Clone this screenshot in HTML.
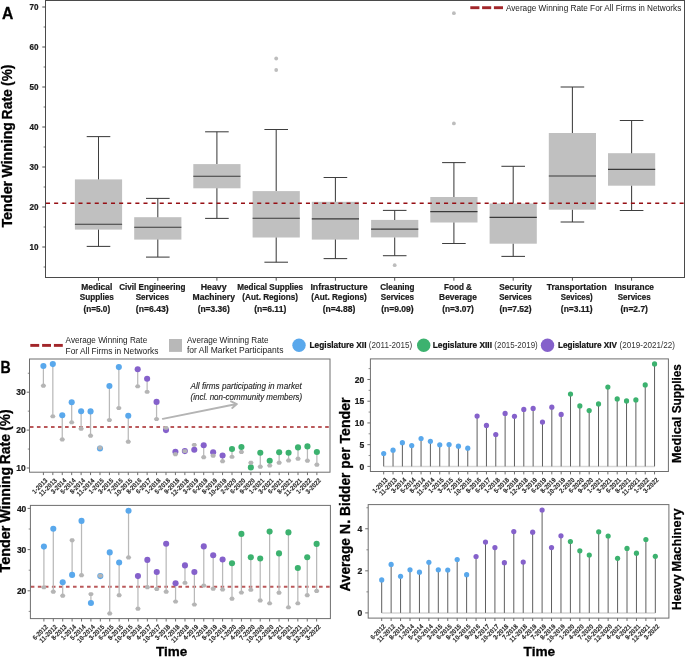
<!DOCTYPE html>
<html lang="en">
<head>
<meta charset="utf-8">
<title>Tender Winning Rate Figure</title>
<style>
html,body{margin:0;padding:0;background:#ffffff;}
body{width:685px;height:657px;overflow:hidden;}
svg{display:block;will-change:transform;}
svg text{font-family:"Liberation Sans", "DejaVu Sans", sans-serif;}
</style>
</head>
<body>
<svg width="685" height="657" viewBox="0 0 685 657">
<rect x="0" y="0" width="685" height="657" fill="#ffffff"/>
<rect x="74.90" y="179.40" width="47.20" height="50.20" fill="#c0c0c0" stroke="none" stroke-width="1"/>
<line x1="98.50" y1="136.60" x2="98.50" y2="179.40" stroke="#3e3e3e" stroke-width="1.05"/>
<line x1="98.50" y1="229.60" x2="98.50" y2="246.40" stroke="#3e3e3e" stroke-width="1.05"/>
<line x1="86.70" y1="136.60" x2="110.30" y2="136.60" stroke="#3e3e3e" stroke-width="1.05"/>
<line x1="86.70" y1="246.40" x2="110.30" y2="246.40" stroke="#3e3e3e" stroke-width="1.05"/>
<line x1="74.90" y1="224.20" x2="122.10" y2="224.20" stroke="#3a3a3a" stroke-width="1.1"/>
<rect x="134.20" y="217.20" width="47.20" height="22.40" fill="#c0c0c0" stroke="none" stroke-width="1"/>
<line x1="157.80" y1="198.40" x2="157.80" y2="217.20" stroke="#3e3e3e" stroke-width="1.05"/>
<line x1="157.80" y1="239.60" x2="157.80" y2="257.10" stroke="#3e3e3e" stroke-width="1.05"/>
<line x1="146.00" y1="198.40" x2="169.60" y2="198.40" stroke="#3e3e3e" stroke-width="1.05"/>
<line x1="146.00" y1="257.10" x2="169.60" y2="257.10" stroke="#3e3e3e" stroke-width="1.05"/>
<line x1="134.20" y1="227.20" x2="181.40" y2="227.20" stroke="#3a3a3a" stroke-width="1.1"/>
<rect x="193.30" y="164.10" width="47.20" height="24.20" fill="#c0c0c0" stroke="none" stroke-width="1"/>
<line x1="216.90" y1="131.80" x2="216.90" y2="164.10" stroke="#3e3e3e" stroke-width="1.05"/>
<line x1="216.90" y1="188.30" x2="216.90" y2="218.40" stroke="#3e3e3e" stroke-width="1.05"/>
<line x1="205.10" y1="131.80" x2="228.70" y2="131.80" stroke="#3e3e3e" stroke-width="1.05"/>
<line x1="205.10" y1="218.40" x2="228.70" y2="218.40" stroke="#3e3e3e" stroke-width="1.05"/>
<line x1="193.30" y1="176.30" x2="240.50" y2="176.30" stroke="#3a3a3a" stroke-width="1.1"/>
<rect x="252.60" y="191.10" width="47.20" height="46.40" fill="#c0c0c0" stroke="none" stroke-width="1"/>
<line x1="276.20" y1="129.50" x2="276.20" y2="191.10" stroke="#3e3e3e" stroke-width="1.05"/>
<line x1="276.20" y1="237.50" x2="276.20" y2="262.20" stroke="#3e3e3e" stroke-width="1.05"/>
<line x1="264.40" y1="129.50" x2="288.00" y2="129.50" stroke="#3e3e3e" stroke-width="1.05"/>
<line x1="264.40" y1="262.20" x2="288.00" y2="262.20" stroke="#3e3e3e" stroke-width="1.05"/>
<line x1="252.60" y1="218.20" x2="299.80" y2="218.20" stroke="#3a3a3a" stroke-width="1.1"/>
<circle cx="276.20" cy="58.50" r="1.90" fill="#bdbdbd"/>
<circle cx="276.20" cy="70.00" r="1.90" fill="#bdbdbd"/>
<rect x="311.80" y="201.80" width="47.20" height="37.80" fill="#c0c0c0" stroke="none" stroke-width="1"/>
<line x1="335.40" y1="177.50" x2="335.40" y2="201.80" stroke="#3e3e3e" stroke-width="1.05"/>
<line x1="335.40" y1="239.60" x2="335.40" y2="258.60" stroke="#3e3e3e" stroke-width="1.05"/>
<line x1="323.60" y1="177.50" x2="347.20" y2="177.50" stroke="#3e3e3e" stroke-width="1.05"/>
<line x1="323.60" y1="258.60" x2="347.20" y2="258.60" stroke="#3e3e3e" stroke-width="1.05"/>
<line x1="311.80" y1="218.90" x2="359.00" y2="218.90" stroke="#3a3a3a" stroke-width="1.1"/>
<rect x="371.10" y="219.90" width="47.20" height="17.50" fill="#c0c0c0" stroke="none" stroke-width="1"/>
<line x1="394.70" y1="210.40" x2="394.70" y2="219.90" stroke="#3e3e3e" stroke-width="1.05"/>
<line x1="394.70" y1="237.40" x2="394.70" y2="255.70" stroke="#3e3e3e" stroke-width="1.05"/>
<line x1="382.90" y1="210.40" x2="406.50" y2="210.40" stroke="#3e3e3e" stroke-width="1.05"/>
<line x1="382.90" y1="255.70" x2="406.50" y2="255.70" stroke="#3e3e3e" stroke-width="1.05"/>
<line x1="371.10" y1="229.10" x2="418.30" y2="229.10" stroke="#3a3a3a" stroke-width="1.1"/>
<circle cx="394.70" cy="265.20" r="1.90" fill="#bdbdbd"/>
<rect x="430.30" y="197.00" width="47.20" height="25.50" fill="#c0c0c0" stroke="none" stroke-width="1"/>
<line x1="453.90" y1="162.60" x2="453.90" y2="197.00" stroke="#3e3e3e" stroke-width="1.05"/>
<line x1="453.90" y1="222.50" x2="453.90" y2="243.50" stroke="#3e3e3e" stroke-width="1.05"/>
<line x1="442.10" y1="162.60" x2="465.70" y2="162.60" stroke="#3e3e3e" stroke-width="1.05"/>
<line x1="442.10" y1="243.50" x2="465.70" y2="243.50" stroke="#3e3e3e" stroke-width="1.05"/>
<line x1="430.30" y1="211.60" x2="477.50" y2="211.60" stroke="#3a3a3a" stroke-width="1.1"/>
<circle cx="453.90" cy="13.20" r="1.90" fill="#bdbdbd"/>
<circle cx="453.90" cy="123.40" r="1.90" fill="#bdbdbd"/>
<rect x="489.60" y="203.50" width="47.20" height="40.20" fill="#c0c0c0" stroke="none" stroke-width="1"/>
<line x1="513.20" y1="166.30" x2="513.20" y2="203.50" stroke="#3e3e3e" stroke-width="1.05"/>
<line x1="513.20" y1="243.70" x2="513.20" y2="256.40" stroke="#3e3e3e" stroke-width="1.05"/>
<line x1="501.40" y1="166.30" x2="525.00" y2="166.30" stroke="#3e3e3e" stroke-width="1.05"/>
<line x1="501.40" y1="256.40" x2="525.00" y2="256.40" stroke="#3e3e3e" stroke-width="1.05"/>
<line x1="489.60" y1="217.40" x2="536.80" y2="217.40" stroke="#3a3a3a" stroke-width="1.1"/>
<rect x="548.80" y="133.00" width="47.20" height="76.70" fill="#c0c0c0" stroke="none" stroke-width="1"/>
<line x1="572.40" y1="87.00" x2="572.40" y2="133.00" stroke="#3e3e3e" stroke-width="1.05"/>
<line x1="572.40" y1="209.70" x2="572.40" y2="222.00" stroke="#3e3e3e" stroke-width="1.05"/>
<line x1="560.60" y1="87.00" x2="584.20" y2="87.00" stroke="#3e3e3e" stroke-width="1.05"/>
<line x1="560.60" y1="222.00" x2="584.20" y2="222.00" stroke="#3e3e3e" stroke-width="1.05"/>
<line x1="548.80" y1="176.00" x2="596.00" y2="176.00" stroke="#3a3a3a" stroke-width="1.1"/>
<rect x="608.00" y="153.20" width="47.20" height="32.50" fill="#c0c0c0" stroke="none" stroke-width="1"/>
<line x1="631.60" y1="120.50" x2="631.60" y2="153.20" stroke="#3e3e3e" stroke-width="1.05"/>
<line x1="631.60" y1="185.70" x2="631.60" y2="210.50" stroke="#3e3e3e" stroke-width="1.05"/>
<line x1="619.80" y1="120.50" x2="643.40" y2="120.50" stroke="#3e3e3e" stroke-width="1.05"/>
<line x1="619.80" y1="210.50" x2="643.40" y2="210.50" stroke="#3e3e3e" stroke-width="1.05"/>
<line x1="608.00" y1="169.40" x2="655.20" y2="169.40" stroke="#3a3a3a" stroke-width="1.1"/>
<line x1="46.00" y1="203.30" x2="684.50" y2="203.30" stroke="#960f14" stroke-width="1.55" stroke-dasharray="4.05 4.073"/>
<rect x="45.50" y="0.50" width="639.00" height="277.00" fill="none" stroke="#4a4a4a" stroke-width="1"/>
<line x1="42.30" y1="247.00" x2="45.50" y2="247.00" stroke="#4a4a4a" stroke-width="1"/>
<text x="38.40" y="250.00" font-size="8.4" font-weight="bold" text-anchor="end" fill="#1a1a1a" stroke="#1a1a1a" stroke-width="0.22" textLength="9.00" lengthAdjust="spacingAndGlyphs">10</text>
<line x1="42.30" y1="207.00" x2="45.50" y2="207.00" stroke="#4a4a4a" stroke-width="1"/>
<text x="38.40" y="210.00" font-size="8.4" font-weight="bold" text-anchor="end" fill="#1a1a1a" stroke="#1a1a1a" stroke-width="0.22" textLength="9.00" lengthAdjust="spacingAndGlyphs">20</text>
<line x1="42.30" y1="167.00" x2="45.50" y2="167.00" stroke="#4a4a4a" stroke-width="1"/>
<text x="38.40" y="170.00" font-size="8.4" font-weight="bold" text-anchor="end" fill="#1a1a1a" stroke="#1a1a1a" stroke-width="0.22" textLength="9.00" lengthAdjust="spacingAndGlyphs">30</text>
<line x1="42.30" y1="127.00" x2="45.50" y2="127.00" stroke="#4a4a4a" stroke-width="1"/>
<text x="38.40" y="130.00" font-size="8.4" font-weight="bold" text-anchor="end" fill="#1a1a1a" stroke="#1a1a1a" stroke-width="0.22" textLength="9.00" lengthAdjust="spacingAndGlyphs">40</text>
<line x1="42.30" y1="87.00" x2="45.50" y2="87.00" stroke="#4a4a4a" stroke-width="1"/>
<text x="38.40" y="90.00" font-size="8.4" font-weight="bold" text-anchor="end" fill="#1a1a1a" stroke="#1a1a1a" stroke-width="0.22" textLength="9.00" lengthAdjust="spacingAndGlyphs">50</text>
<line x1="42.30" y1="47.00" x2="45.50" y2="47.00" stroke="#4a4a4a" stroke-width="1"/>
<text x="38.40" y="50.00" font-size="8.4" font-weight="bold" text-anchor="end" fill="#1a1a1a" stroke="#1a1a1a" stroke-width="0.22" textLength="9.00" lengthAdjust="spacingAndGlyphs">60</text>
<line x1="42.30" y1="7.00" x2="45.50" y2="7.00" stroke="#4a4a4a" stroke-width="1"/>
<text x="38.40" y="10.00" font-size="8.4" font-weight="bold" text-anchor="end" fill="#1a1a1a" stroke="#1a1a1a" stroke-width="0.22" textLength="9.00" lengthAdjust="spacingAndGlyphs">70</text>
<line x1="43.60" y1="267.00" x2="45.50" y2="267.00" stroke="#4a4a4a" stroke-width="0.8"/>
<line x1="43.60" y1="227.00" x2="45.50" y2="227.00" stroke="#4a4a4a" stroke-width="0.8"/>
<line x1="43.60" y1="187.00" x2="45.50" y2="187.00" stroke="#4a4a4a" stroke-width="0.8"/>
<line x1="43.60" y1="147.00" x2="45.50" y2="147.00" stroke="#4a4a4a" stroke-width="0.8"/>
<line x1="43.60" y1="107.00" x2="45.50" y2="107.00" stroke="#4a4a4a" stroke-width="0.8"/>
<line x1="43.60" y1="67.00" x2="45.50" y2="67.00" stroke="#4a4a4a" stroke-width="0.8"/>
<line x1="43.60" y1="27.00" x2="45.50" y2="27.00" stroke="#4a4a4a" stroke-width="0.8"/>
<line x1="98.50" y1="277.50" x2="98.50" y2="280.70" stroke="#4a4a4a" stroke-width="1"/>
<line x1="157.80" y1="277.50" x2="157.80" y2="280.70" stroke="#4a4a4a" stroke-width="1"/>
<line x1="216.90" y1="277.50" x2="216.90" y2="280.70" stroke="#4a4a4a" stroke-width="1"/>
<line x1="276.20" y1="277.50" x2="276.20" y2="280.70" stroke="#4a4a4a" stroke-width="1"/>
<line x1="335.40" y1="277.50" x2="335.40" y2="280.70" stroke="#4a4a4a" stroke-width="1"/>
<line x1="394.70" y1="277.50" x2="394.70" y2="280.70" stroke="#4a4a4a" stroke-width="1"/>
<line x1="453.90" y1="277.50" x2="453.90" y2="280.70" stroke="#4a4a4a" stroke-width="1"/>
<line x1="513.20" y1="277.50" x2="513.20" y2="280.70" stroke="#4a4a4a" stroke-width="1"/>
<line x1="572.40" y1="277.50" x2="572.40" y2="280.70" stroke="#4a4a4a" stroke-width="1"/>
<line x1="631.60" y1="277.50" x2="631.60" y2="280.70" stroke="#4a4a4a" stroke-width="1"/>
<text x="96.80" y="289.50" font-size="8.6" font-weight="bold" text-anchor="middle" fill="#1a1a1a" stroke="#1a1a1a" stroke-width="0.22" textLength="30.90" lengthAdjust="spacingAndGlyphs">Medical</text>
<text x="96.80" y="300.40" font-size="8.6" font-weight="bold" text-anchor="middle" fill="#1a1a1a" stroke="#1a1a1a" stroke-width="0.22" textLength="34.00" lengthAdjust="spacingAndGlyphs">Supplies</text>
<text x="96.80" y="311.60" font-size="8.6" font-weight="bold" text-anchor="middle" fill="#1a1a1a" stroke="#1a1a1a" stroke-width="0.22" textLength="26.80" lengthAdjust="spacingAndGlyphs">(n=5.0)</text>
<text x="152.30" y="289.50" font-size="8.6" font-weight="bold" text-anchor="middle" fill="#1a1a1a" stroke="#1a1a1a" stroke-width="0.22" textLength="66.20" lengthAdjust="spacingAndGlyphs">Civil Engineering</text>
<text x="152.30" y="300.40" font-size="8.6" font-weight="bold" text-anchor="middle" fill="#1a1a1a" stroke="#1a1a1a" stroke-width="0.22" textLength="33.20" lengthAdjust="spacingAndGlyphs">Services</text>
<text x="152.30" y="311.60" font-size="8.6" font-weight="bold" text-anchor="middle" fill="#1a1a1a" stroke="#1a1a1a" stroke-width="0.22" textLength="32.90" lengthAdjust="spacingAndGlyphs">(n=6.43)</text>
<text x="213.70" y="289.50" font-size="8.6" font-weight="bold" text-anchor="middle" fill="#1a1a1a" stroke="#1a1a1a" stroke-width="0.22" textLength="26.00" lengthAdjust="spacingAndGlyphs">Heavy</text>
<text x="213.70" y="300.40" font-size="8.6" font-weight="bold" text-anchor="middle" fill="#1a1a1a" stroke="#1a1a1a" stroke-width="0.22" textLength="42.40" lengthAdjust="spacingAndGlyphs">Machinery</text>
<text x="213.70" y="311.60" font-size="8.6" font-weight="bold" text-anchor="middle" fill="#1a1a1a" stroke="#1a1a1a" stroke-width="0.22" textLength="32.10" lengthAdjust="spacingAndGlyphs">(n=3.36)</text>
<text x="270.20" y="289.50" font-size="8.6" font-weight="bold" text-anchor="middle" fill="#1a1a1a" stroke="#1a1a1a" stroke-width="0.22" textLength="65.90" lengthAdjust="spacingAndGlyphs">Medical Supplies</text>
<text x="270.20" y="300.40" font-size="8.6" font-weight="bold" text-anchor="middle" fill="#1a1a1a" stroke="#1a1a1a" stroke-width="0.22" textLength="55.70" lengthAdjust="spacingAndGlyphs">(Aut. Regions)</text>
<text x="270.20" y="311.60" font-size="8.6" font-weight="bold" text-anchor="middle" fill="#1a1a1a" stroke="#1a1a1a" stroke-width="0.22" textLength="32.10" lengthAdjust="spacingAndGlyphs">(n=6.11)</text>
<text x="339.00" y="289.50" font-size="8.6" font-weight="bold" text-anchor="middle" fill="#1a1a1a" stroke="#1a1a1a" stroke-width="0.22" textLength="57.20" lengthAdjust="spacingAndGlyphs">Infrastructure</text>
<text x="339.00" y="300.40" font-size="8.6" font-weight="bold" text-anchor="middle" fill="#1a1a1a" stroke="#1a1a1a" stroke-width="0.22" textLength="55.60" lengthAdjust="spacingAndGlyphs">(Aut. Regions)</text>
<text x="339.00" y="311.60" font-size="8.6" font-weight="bold" text-anchor="middle" fill="#1a1a1a" stroke="#1a1a1a" stroke-width="0.22" textLength="32.50" lengthAdjust="spacingAndGlyphs">(n=4.88)</text>
<text x="397.40" y="289.50" font-size="8.6" font-weight="bold" text-anchor="middle" fill="#1a1a1a" stroke="#1a1a1a" stroke-width="0.22" textLength="34.30" lengthAdjust="spacingAndGlyphs">Cleaning</text>
<text x="397.40" y="300.40" font-size="8.6" font-weight="bold" text-anchor="middle" fill="#1a1a1a" stroke="#1a1a1a" stroke-width="0.22" textLength="33.30" lengthAdjust="spacingAndGlyphs">Services</text>
<text x="397.40" y="311.60" font-size="8.6" font-weight="bold" text-anchor="middle" fill="#1a1a1a" stroke="#1a1a1a" stroke-width="0.22" textLength="32.50" lengthAdjust="spacingAndGlyphs">(n=9.09)</text>
<text x="458.00" y="289.50" font-size="8.6" font-weight="bold" text-anchor="middle" fill="#1a1a1a" stroke="#1a1a1a" stroke-width="0.22" textLength="27.90" lengthAdjust="spacingAndGlyphs">Food &amp;</text>
<text x="458.00" y="300.40" font-size="8.6" font-weight="bold" text-anchor="middle" fill="#1a1a1a" stroke="#1a1a1a" stroke-width="0.22" textLength="37.80" lengthAdjust="spacingAndGlyphs">Beverage</text>
<text x="458.00" y="311.60" font-size="8.6" font-weight="bold" text-anchor="middle" fill="#1a1a1a" stroke="#1a1a1a" stroke-width="0.22" textLength="31.70" lengthAdjust="spacingAndGlyphs">(n=3.07)</text>
<text x="515.50" y="289.50" font-size="8.6" font-weight="bold" text-anchor="middle" fill="#1a1a1a" stroke="#1a1a1a" stroke-width="0.22" textLength="32.60" lengthAdjust="spacingAndGlyphs">Security</text>
<text x="515.50" y="300.40" font-size="8.6" font-weight="bold" text-anchor="middle" fill="#1a1a1a" stroke="#1a1a1a" stroke-width="0.22" textLength="32.60" lengthAdjust="spacingAndGlyphs">Services</text>
<text x="515.50" y="311.60" font-size="8.6" font-weight="bold" text-anchor="middle" fill="#1a1a1a" stroke="#1a1a1a" stroke-width="0.22" textLength="32.00" lengthAdjust="spacingAndGlyphs">(n=7.52)</text>
<text x="576.70" y="289.50" font-size="8.6" font-weight="bold" text-anchor="middle" fill="#1a1a1a" stroke="#1a1a1a" stroke-width="0.22" textLength="59.90" lengthAdjust="spacingAndGlyphs">Transportation</text>
<text x="576.70" y="300.40" font-size="8.6" font-weight="bold" text-anchor="middle" fill="#1a1a1a" stroke="#1a1a1a" stroke-width="0.22" textLength="32.00" lengthAdjust="spacingAndGlyphs">Sevices)</text>
<text x="576.70" y="311.60" font-size="8.6" font-weight="bold" text-anchor="middle" fill="#1a1a1a" stroke="#1a1a1a" stroke-width="0.22" textLength="31.70" lengthAdjust="spacingAndGlyphs">(n=3.11)</text>
<text x="634.20" y="289.50" font-size="8.6" font-weight="bold" text-anchor="middle" fill="#1a1a1a" stroke="#1a1a1a" stroke-width="0.22" textLength="39.50" lengthAdjust="spacingAndGlyphs">Insurance</text>
<text x="634.20" y="300.40" font-size="8.6" font-weight="bold" text-anchor="middle" fill="#1a1a1a" stroke="#1a1a1a" stroke-width="0.22" textLength="32.90" lengthAdjust="spacingAndGlyphs">Services</text>
<text x="634.20" y="311.60" font-size="8.6" font-weight="bold" text-anchor="middle" fill="#1a1a1a" stroke="#1a1a1a" stroke-width="0.22" textLength="27.50" lengthAdjust="spacingAndGlyphs">(n=2.7)</text>
<line x1="470.30" y1="7.70" x2="479.40" y2="7.70" stroke="#a2262a" stroke-width="2.9"/>
<line x1="482.10" y1="7.70" x2="491.20" y2="7.70" stroke="#a2262a" stroke-width="2.9"/>
<line x1="493.90" y1="7.70" x2="503.00" y2="7.70" stroke="#a2262a" stroke-width="2.9"/>
<text x="505.90" y="10.90" font-size="8.7" font-weight="normal" text-anchor="start" fill="#222" textLength="175.40" lengthAdjust="spacingAndGlyphs">Average Winning Rate For All Firms in Networks</text>
<text x="2.00" y="19.00" font-size="16" font-weight="bold" text-anchor="start" fill="#000" stroke="#000" stroke-width="0.3" textLength="11.30" lengthAdjust="spacingAndGlyphs">A</text>
<text x="0" y="0" transform="translate(11.85,227.60) rotate(-90)" font-size="14" font-weight="bold" text-anchor="start" fill="#000" stroke="#000" stroke-width="0.3" textLength="46.80" lengthAdjust="spacingAndGlyphs">Tender</text>
<text x="0" y="0" transform="translate(11.85,177.50) rotate(-90)" font-size="14" font-weight="bold" text-anchor="start" fill="#000" stroke="#000" stroke-width="0.3" textLength="55.40" lengthAdjust="spacingAndGlyphs">Winning</text>
<text x="0" y="0" transform="translate(11.85,119.40) rotate(-90)" font-size="14" font-weight="bold" text-anchor="start" fill="#000" stroke="#000" stroke-width="0.3" textLength="30.30" lengthAdjust="spacingAndGlyphs">Rate</text>
<text x="0" y="0" transform="translate(11.85,85.90) rotate(-90)" font-size="14" font-weight="bold" text-anchor="start" fill="#000" stroke="#000" stroke-width="0.3" textLength="21.30" lengthAdjust="spacingAndGlyphs">(%)</text>
<line x1="30.30" y1="345.40" x2="39.20" y2="345.40" stroke="#a2262a" stroke-width="2.9"/>
<line x1="42.10" y1="345.40" x2="51.00" y2="345.40" stroke="#a2262a" stroke-width="2.9"/>
<line x1="53.90" y1="345.40" x2="62.80" y2="345.40" stroke="#a2262a" stroke-width="2.9"/>
<text x="65.60" y="343.20" font-size="8.6" font-weight="normal" text-anchor="start" fill="#222" textLength="81.60" lengthAdjust="spacingAndGlyphs">Average Winning Rate</text>
<text x="65.60" y="353.80" font-size="8.6" font-weight="normal" text-anchor="start" fill="#222" textLength="92.80" lengthAdjust="spacingAndGlyphs">For All Firms in Networks</text>
<rect x="169.00" y="339.00" width="13.00" height="12.90" fill="#b8b8b8" stroke="none" stroke-width="1"/>
<text x="187.00" y="342.80" font-size="8.6" font-weight="normal" text-anchor="start" fill="#222" textLength="81.60" lengthAdjust="spacingAndGlyphs">Average Winning Rate</text>
<text x="187.00" y="353.10" font-size="8.6" font-weight="normal" text-anchor="start" fill="#222" textLength="96.40" lengthAdjust="spacingAndGlyphs">for All Market Participants</text>
<circle cx="299.00" cy="345.30" r="6.70" fill="#59a8ec"/>
<text x="309.50" y="348.20" font-size="8.6" font-weight="bold" text-anchor="start" fill="#111" stroke="#111" stroke-width="0.22" textLength="57.00" lengthAdjust="spacingAndGlyphs">Legislature XII</text>
<text x="368.80" y="348.20" font-size="8.3" font-weight="normal" text-anchor="start" fill="#333" textLength="43.50" lengthAdjust="spacingAndGlyphs">(2011-2015)</text>
<circle cx="423.70" cy="345.30" r="6.70" fill="#3cb26f"/>
<text x="432.70" y="348.20" font-size="8.6" font-weight="bold" text-anchor="start" fill="#111" stroke="#111" stroke-width="0.22" textLength="59.30" lengthAdjust="spacingAndGlyphs">Legislature XIII</text>
<text x="494.30" y="348.20" font-size="8.3" font-weight="normal" text-anchor="start" fill="#333" textLength="43.50" lengthAdjust="spacingAndGlyphs">(2015-2019)</text>
<circle cx="547.50" cy="345.30" r="6.70" fill="#8561cb"/>
<text x="558.00" y="348.20" font-size="8.6" font-weight="bold" text-anchor="start" fill="#111" stroke="#111" stroke-width="0.22" textLength="59.00" lengthAdjust="spacingAndGlyphs">Legislature XIV</text>
<text x="619.60" y="348.20" font-size="8.3" font-weight="normal" text-anchor="start" fill="#333" textLength="55.40" lengthAdjust="spacingAndGlyphs">(2019-2021/22)</text>
<line x1="29.90" y1="427.10" x2="330.00" y2="427.10" stroke="#ba585a" stroke-width="2.0" stroke-dasharray="3.6 3.43"/>
<line x1="43.40" y1="366.00" x2="43.40" y2="385.80" stroke="#b9b9b9" stroke-width="1.25"/>
<line x1="52.83" y1="364.10" x2="52.83" y2="416.40" stroke="#b9b9b9" stroke-width="1.25"/>
<line x1="62.26" y1="415.30" x2="62.26" y2="439.50" stroke="#b9b9b9" stroke-width="1.25"/>
<line x1="71.69" y1="402.30" x2="71.69" y2="422.40" stroke="#b9b9b9" stroke-width="1.25"/>
<line x1="81.12" y1="411.20" x2="81.12" y2="428.70" stroke="#b9b9b9" stroke-width="1.25"/>
<line x1="90.55" y1="411.40" x2="90.55" y2="435.80" stroke="#b9b9b9" stroke-width="1.25"/>
<line x1="99.98" y1="448.50" x2="99.98" y2="447.80" stroke="#b9b9b9" stroke-width="1.25"/>
<line x1="109.41" y1="386.00" x2="109.41" y2="420.10" stroke="#b9b9b9" stroke-width="1.25"/>
<line x1="118.84" y1="367.10" x2="118.84" y2="408.10" stroke="#b9b9b9" stroke-width="1.25"/>
<line x1="128.27" y1="415.80" x2="128.27" y2="441.80" stroke="#b9b9b9" stroke-width="1.25"/>
<line x1="137.70" y1="369.20" x2="137.70" y2="386.40" stroke="#b9b9b9" stroke-width="1.25"/>
<line x1="147.13" y1="378.70" x2="147.13" y2="391.90" stroke="#b9b9b9" stroke-width="1.25"/>
<line x1="156.56" y1="401.90" x2="156.56" y2="419.10" stroke="#b9b9b9" stroke-width="1.25"/>
<line x1="165.99" y1="430.10" x2="165.99" y2="427.90" stroke="#b9b9b9" stroke-width="1.25"/>
<line x1="175.42" y1="451.80" x2="175.42" y2="454.20" stroke="#b9b9b9" stroke-width="1.25"/>
<line x1="184.85" y1="451.10" x2="184.85" y2="451.10" stroke="#b9b9b9" stroke-width="1.25"/>
<line x1="194.28" y1="449.80" x2="194.28" y2="444.90" stroke="#b9b9b9" stroke-width="1.25"/>
<line x1="203.71" y1="445.20" x2="203.71" y2="457.30" stroke="#b9b9b9" stroke-width="1.25"/>
<line x1="213.14" y1="452.30" x2="213.14" y2="455.80" stroke="#b9b9b9" stroke-width="1.25"/>
<line x1="222.57" y1="455.50" x2="222.57" y2="461.30" stroke="#b9b9b9" stroke-width="1.25"/>
<line x1="232.00" y1="449.00" x2="232.00" y2="456.90" stroke="#b9b9b9" stroke-width="1.25"/>
<line x1="241.43" y1="447.00" x2="241.43" y2="452.00" stroke="#b9b9b9" stroke-width="1.25"/>
<line x1="250.86" y1="467.40" x2="250.86" y2="462.80" stroke="#b9b9b9" stroke-width="1.25"/>
<line x1="260.29" y1="452.70" x2="260.29" y2="466.80" stroke="#b9b9b9" stroke-width="1.25"/>
<line x1="269.72" y1="460.70" x2="269.72" y2="465.60" stroke="#b9b9b9" stroke-width="1.25"/>
<line x1="279.15" y1="452.30" x2="279.15" y2="462.80" stroke="#b9b9b9" stroke-width="1.25"/>
<line x1="288.58" y1="452.70" x2="288.58" y2="460.50" stroke="#b9b9b9" stroke-width="1.25"/>
<line x1="298.01" y1="447.40" x2="298.01" y2="458.70" stroke="#b9b9b9" stroke-width="1.25"/>
<line x1="307.44" y1="446.40" x2="307.44" y2="460.70" stroke="#b9b9b9" stroke-width="1.25"/>
<line x1="316.87" y1="452.00" x2="316.87" y2="464.80" stroke="#b9b9b9" stroke-width="1.25"/>
<circle cx="43.40" cy="366.00" r="3.05" fill="#59a8ec"/>
<circle cx="52.83" cy="364.10" r="3.05" fill="#59a8ec"/>
<circle cx="62.26" cy="415.30" r="3.05" fill="#59a8ec"/>
<circle cx="71.69" cy="402.30" r="3.05" fill="#59a8ec"/>
<circle cx="81.12" cy="411.20" r="3.05" fill="#59a8ec"/>
<circle cx="90.55" cy="411.40" r="3.05" fill="#59a8ec"/>
<circle cx="99.98" cy="448.50" r="3.05" fill="#59a8ec"/>
<circle cx="109.41" cy="386.00" r="3.05" fill="#59a8ec"/>
<circle cx="118.84" cy="367.10" r="3.05" fill="#59a8ec"/>
<circle cx="128.27" cy="415.80" r="3.05" fill="#59a8ec"/>
<circle cx="137.70" cy="369.20" r="3.05" fill="#8561cb"/>
<circle cx="147.13" cy="378.70" r="3.05" fill="#8561cb"/>
<circle cx="156.56" cy="401.90" r="3.05" fill="#8561cb"/>
<circle cx="165.99" cy="430.10" r="3.05" fill="#8561cb"/>
<circle cx="175.42" cy="451.80" r="3.05" fill="#8561cb"/>
<circle cx="184.85" cy="451.10" r="3.05" fill="#8561cb"/>
<circle cx="194.28" cy="449.80" r="3.05" fill="#8561cb"/>
<circle cx="203.71" cy="445.20" r="3.05" fill="#8561cb"/>
<circle cx="213.14" cy="452.30" r="3.05" fill="#8561cb"/>
<circle cx="222.57" cy="455.50" r="3.05" fill="#8561cb"/>
<circle cx="232.00" cy="449.00" r="3.05" fill="#3cb26f"/>
<circle cx="241.43" cy="447.00" r="3.05" fill="#3cb26f"/>
<circle cx="250.86" cy="467.40" r="3.05" fill="#3cb26f"/>
<circle cx="260.29" cy="452.70" r="3.05" fill="#3cb26f"/>
<circle cx="269.72" cy="460.70" r="3.05" fill="#3cb26f"/>
<circle cx="279.15" cy="452.30" r="3.05" fill="#3cb26f"/>
<circle cx="288.58" cy="452.70" r="3.05" fill="#3cb26f"/>
<circle cx="298.01" cy="447.40" r="3.05" fill="#3cb26f"/>
<circle cx="307.44" cy="446.40" r="3.05" fill="#3cb26f"/>
<circle cx="316.87" cy="452.00" r="3.05" fill="#3cb26f"/>
<polygon points="40.65,385.80 41.95,383.85 44.85,383.85 46.15,385.80 44.85,387.75 41.95,387.75" fill="#b5b5b5"/>
<polygon points="50.08,416.40 51.38,414.45 54.28,414.45 55.58,416.40 54.28,418.35 51.38,418.35" fill="#b5b5b5"/>
<polygon points="59.51,439.50 60.81,437.55 63.71,437.55 65.01,439.50 63.71,441.45 60.81,441.45" fill="#b5b5b5"/>
<polygon points="68.94,422.40 70.24,420.45 73.14,420.45 74.44,422.40 73.14,424.35 70.24,424.35" fill="#b5b5b5"/>
<polygon points="78.37,428.70 79.67,426.75 82.57,426.75 83.87,428.70 82.57,430.65 79.67,430.65" fill="#b5b5b5"/>
<polygon points="87.80,435.80 89.10,433.85 92.00,433.85 93.30,435.80 92.00,437.75 89.10,437.75" fill="#b5b5b5"/>
<polygon points="97.23,447.80 98.53,445.85 101.43,445.85 102.73,447.80 101.43,449.75 98.53,449.75" fill="#b5b5b5"/>
<polygon points="106.66,420.10 107.96,418.15 110.86,418.15 112.16,420.10 110.86,422.05 107.96,422.05" fill="#b5b5b5"/>
<polygon points="116.09,408.10 117.39,406.15 120.29,406.15 121.59,408.10 120.29,410.05 117.39,410.05" fill="#b5b5b5"/>
<polygon points="125.52,441.80 126.82,439.85 129.72,439.85 131.02,441.80 129.72,443.75 126.82,443.75" fill="#b5b5b5"/>
<polygon points="134.95,386.40 136.25,384.45 139.15,384.45 140.45,386.40 139.15,388.35 136.25,388.35" fill="#b5b5b5"/>
<polygon points="144.38,391.90 145.68,389.95 148.58,389.95 149.88,391.90 148.58,393.85 145.68,393.85" fill="#b5b5b5"/>
<polygon points="153.81,419.10 155.11,417.15 158.01,417.15 159.31,419.10 158.01,421.05 155.11,421.05" fill="#b5b5b5"/>
<polygon points="163.24,427.90 164.54,425.95 167.44,425.95 168.74,427.90 167.44,429.85 164.54,429.85" fill="#b5b5b5"/>
<polygon points="172.67,454.20 173.97,452.25 176.87,452.25 178.17,454.20 176.87,456.15 173.97,456.15" fill="#b5b5b5"/>
<polygon points="182.10,451.10 183.40,449.15 186.30,449.15 187.60,451.10 186.30,453.05 183.40,453.05" fill="#b5b5b5"/>
<polygon points="191.53,444.90 192.83,442.95 195.73,442.95 197.03,444.90 195.73,446.85 192.83,446.85" fill="#b5b5b5"/>
<polygon points="200.96,457.30 202.26,455.35 205.16,455.35 206.46,457.30 205.16,459.25 202.26,459.25" fill="#b5b5b5"/>
<polygon points="210.39,455.80 211.69,453.85 214.59,453.85 215.89,455.80 214.59,457.75 211.69,457.75" fill="#b5b5b5"/>
<polygon points="219.82,461.30 221.12,459.35 224.02,459.35 225.32,461.30 224.02,463.25 221.12,463.25" fill="#b5b5b5"/>
<polygon points="229.25,456.90 230.55,454.95 233.45,454.95 234.75,456.90 233.45,458.85 230.55,458.85" fill="#b5b5b5"/>
<polygon points="238.68,452.00 239.98,450.05 242.88,450.05 244.18,452.00 242.88,453.95 239.98,453.95" fill="#b5b5b5"/>
<polygon points="248.11,462.80 249.41,460.85 252.31,460.85 253.61,462.80 252.31,464.75 249.41,464.75" fill="#b5b5b5"/>
<polygon points="257.54,466.80 258.84,464.85 261.74,464.85 263.04,466.80 261.74,468.75 258.84,468.75" fill="#b5b5b5"/>
<polygon points="266.97,465.60 268.27,463.65 271.17,463.65 272.47,465.60 271.17,467.55 268.27,467.55" fill="#b5b5b5"/>
<polygon points="276.40,462.80 277.70,460.85 280.60,460.85 281.90,462.80 280.60,464.75 277.70,464.75" fill="#b5b5b5"/>
<polygon points="285.83,460.50 287.13,458.55 290.03,458.55 291.33,460.50 290.03,462.45 287.13,462.45" fill="#b5b5b5"/>
<polygon points="295.26,458.70 296.56,456.75 299.46,456.75 300.76,458.70 299.46,460.65 296.56,460.65" fill="#b5b5b5"/>
<polygon points="304.69,460.70 305.99,458.75 308.89,458.75 310.19,460.70 308.89,462.65 305.99,462.65" fill="#b5b5b5"/>
<polygon points="314.12,464.80 315.42,462.85 318.32,462.85 319.62,464.80 318.32,466.75 315.42,466.75" fill="#b5b5b5"/>
<rect x="29.50" y="359.00" width="300.50" height="113.20" fill="none" stroke="#6e6e6e" stroke-width="1"/>
<line x1="26.70" y1="468.00" x2="29.50" y2="468.00" stroke="#6e6e6e" stroke-width="1"/>
<text x="25.60" y="471.10" font-size="8.8" font-weight="bold" text-anchor="end" fill="#1a1a1a" stroke="#1a1a1a" stroke-width="0.22" textLength="9.40" lengthAdjust="spacingAndGlyphs">10</text>
<line x1="26.70" y1="430.10" x2="29.50" y2="430.10" stroke="#6e6e6e" stroke-width="1"/>
<text x="25.60" y="433.20" font-size="8.8" font-weight="bold" text-anchor="end" fill="#1a1a1a" stroke="#1a1a1a" stroke-width="0.22" textLength="9.40" lengthAdjust="spacingAndGlyphs">20</text>
<line x1="26.70" y1="392.20" x2="29.50" y2="392.20" stroke="#6e6e6e" stroke-width="1"/>
<text x="25.60" y="395.30" font-size="8.8" font-weight="bold" text-anchor="end" fill="#1a1a1a" stroke="#1a1a1a" stroke-width="0.22" textLength="9.40" lengthAdjust="spacingAndGlyphs">30</text>
<line x1="27.80" y1="449.05" x2="29.50" y2="449.05" stroke="#6e6e6e" stroke-width="0.8"/>
<line x1="27.80" y1="411.15" x2="29.50" y2="411.15" stroke="#6e6e6e" stroke-width="0.8"/>
<line x1="27.80" y1="373.25" x2="29.50" y2="373.25" stroke="#6e6e6e" stroke-width="0.8"/>
<line x1="43.40" y1="472.20" x2="43.40" y2="475.10" stroke="#6e6e6e" stroke-width="1"/>
<text x="0" y="0" transform="translate(47.90,481.00) rotate(-45)" font-size="6.6" font-weight="bold" text-anchor="end" fill="#2a2a2a" stroke="#2a2a2a" stroke-width="0.1" textLength="18.70" lengthAdjust="spacingAndGlyphs">1-2013</text>
<line x1="52.83" y1="472.20" x2="52.83" y2="475.10" stroke="#6e6e6e" stroke-width="1"/>
<text x="0" y="0" transform="translate(57.33,481.00) rotate(-45)" font-size="6.6" font-weight="bold" text-anchor="end" fill="#2a2a2a" stroke="#2a2a2a" stroke-width="0.1" textLength="22.30" lengthAdjust="spacingAndGlyphs">11-2013</text>
<line x1="62.26" y1="472.20" x2="62.26" y2="475.10" stroke="#6e6e6e" stroke-width="1"/>
<text x="0" y="0" transform="translate(66.76,481.00) rotate(-45)" font-size="6.6" font-weight="bold" text-anchor="end" fill="#2a2a2a" stroke="#2a2a2a" stroke-width="0.1" textLength="18.70" lengthAdjust="spacingAndGlyphs">3-2014</text>
<line x1="71.69" y1="472.20" x2="71.69" y2="475.10" stroke="#6e6e6e" stroke-width="1"/>
<text x="0" y="0" transform="translate(76.19,481.00) rotate(-45)" font-size="6.6" font-weight="bold" text-anchor="end" fill="#2a2a2a" stroke="#2a2a2a" stroke-width="0.1" textLength="18.70" lengthAdjust="spacingAndGlyphs">5-2014</text>
<line x1="81.12" y1="472.20" x2="81.12" y2="475.10" stroke="#6e6e6e" stroke-width="1"/>
<text x="0" y="0" transform="translate(85.62,481.00) rotate(-45)" font-size="6.6" font-weight="bold" text-anchor="end" fill="#2a2a2a" stroke="#2a2a2a" stroke-width="0.1" textLength="18.70" lengthAdjust="spacingAndGlyphs">8-2014</text>
<line x1="90.55" y1="472.20" x2="90.55" y2="475.10" stroke="#6e6e6e" stroke-width="1"/>
<text x="0" y="0" transform="translate(95.05,481.00) rotate(-45)" font-size="6.6" font-weight="bold" text-anchor="end" fill="#2a2a2a" stroke="#2a2a2a" stroke-width="0.1" textLength="22.30" lengthAdjust="spacingAndGlyphs">11-2014</text>
<line x1="99.98" y1="472.20" x2="99.98" y2="475.10" stroke="#6e6e6e" stroke-width="1"/>
<text x="0" y="0" transform="translate(104.48,481.00) rotate(-45)" font-size="6.6" font-weight="bold" text-anchor="end" fill="#2a2a2a" stroke="#2a2a2a" stroke-width="0.1" textLength="18.70" lengthAdjust="spacingAndGlyphs">1-2015</text>
<line x1="109.41" y1="472.20" x2="109.41" y2="475.10" stroke="#6e6e6e" stroke-width="1"/>
<text x="0" y="0" transform="translate(113.91,481.00) rotate(-45)" font-size="6.6" font-weight="bold" text-anchor="end" fill="#2a2a2a" stroke="#2a2a2a" stroke-width="0.1" textLength="18.70" lengthAdjust="spacingAndGlyphs">3-2015</text>
<line x1="118.84" y1="472.20" x2="118.84" y2="475.10" stroke="#6e6e6e" stroke-width="1"/>
<text x="0" y="0" transform="translate(123.34,481.00) rotate(-45)" font-size="6.6" font-weight="bold" text-anchor="end" fill="#2a2a2a" stroke="#2a2a2a" stroke-width="0.1" textLength="18.70" lengthAdjust="spacingAndGlyphs">7-2015</text>
<line x1="128.27" y1="472.20" x2="128.27" y2="475.10" stroke="#6e6e6e" stroke-width="1"/>
<text x="0" y="0" transform="translate(132.77,481.00) rotate(-45)" font-size="6.6" font-weight="bold" text-anchor="end" fill="#2a2a2a" stroke="#2a2a2a" stroke-width="0.1" textLength="22.30" lengthAdjust="spacingAndGlyphs">10-2015</text>
<line x1="137.70" y1="472.20" x2="137.70" y2="475.10" stroke="#6e6e6e" stroke-width="1"/>
<text x="0" y="0" transform="translate(142.20,481.00) rotate(-45)" font-size="6.6" font-weight="bold" text-anchor="end" fill="#2a2a2a" stroke="#2a2a2a" stroke-width="0.1" textLength="18.70" lengthAdjust="spacingAndGlyphs">8-2016</text>
<line x1="147.13" y1="472.20" x2="147.13" y2="475.10" stroke="#6e6e6e" stroke-width="1"/>
<text x="0" y="0" transform="translate(151.63,481.00) rotate(-45)" font-size="6.6" font-weight="bold" text-anchor="end" fill="#2a2a2a" stroke="#2a2a2a" stroke-width="0.1" textLength="18.70" lengthAdjust="spacingAndGlyphs">6-2017</text>
<line x1="156.56" y1="472.20" x2="156.56" y2="475.10" stroke="#6e6e6e" stroke-width="1"/>
<text x="0" y="0" transform="translate(161.06,481.00) rotate(-45)" font-size="6.6" font-weight="bold" text-anchor="end" fill="#2a2a2a" stroke="#2a2a2a" stroke-width="0.1" textLength="18.70" lengthAdjust="spacingAndGlyphs">1-2018</text>
<line x1="165.99" y1="472.20" x2="165.99" y2="475.10" stroke="#6e6e6e" stroke-width="1"/>
<text x="0" y="0" transform="translate(170.49,481.00) rotate(-45)" font-size="6.6" font-weight="bold" text-anchor="end" fill="#2a2a2a" stroke="#2a2a2a" stroke-width="0.1" textLength="18.70" lengthAdjust="spacingAndGlyphs">5-2018</text>
<line x1="175.42" y1="472.20" x2="175.42" y2="475.10" stroke="#6e6e6e" stroke-width="1"/>
<text x="0" y="0" transform="translate(179.92,481.00) rotate(-45)" font-size="6.6" font-weight="bold" text-anchor="end" fill="#2a2a2a" stroke="#2a2a2a" stroke-width="0.1" textLength="18.70" lengthAdjust="spacingAndGlyphs">9-2018</text>
<line x1="184.85" y1="472.20" x2="184.85" y2="475.10" stroke="#6e6e6e" stroke-width="1"/>
<text x="0" y="0" transform="translate(189.35,481.00) rotate(-45)" font-size="6.6" font-weight="bold" text-anchor="end" fill="#2a2a2a" stroke="#2a2a2a" stroke-width="0.1" textLength="22.30" lengthAdjust="spacingAndGlyphs">12-2018</text>
<line x1="194.28" y1="472.20" x2="194.28" y2="475.10" stroke="#6e6e6e" stroke-width="1"/>
<text x="0" y="0" transform="translate(198.78,481.00) rotate(-45)" font-size="6.6" font-weight="bold" text-anchor="end" fill="#2a2a2a" stroke="#2a2a2a" stroke-width="0.1" textLength="18.70" lengthAdjust="spacingAndGlyphs">3-2019</text>
<line x1="203.71" y1="472.20" x2="203.71" y2="475.10" stroke="#6e6e6e" stroke-width="1"/>
<text x="0" y="0" transform="translate(208.21,481.00) rotate(-45)" font-size="6.6" font-weight="bold" text-anchor="end" fill="#2a2a2a" stroke="#2a2a2a" stroke-width="0.1" textLength="18.70" lengthAdjust="spacingAndGlyphs">6-2019</text>
<line x1="213.14" y1="472.20" x2="213.14" y2="475.10" stroke="#6e6e6e" stroke-width="1"/>
<text x="0" y="0" transform="translate(217.64,481.00) rotate(-45)" font-size="6.6" font-weight="bold" text-anchor="end" fill="#2a2a2a" stroke="#2a2a2a" stroke-width="0.1" textLength="18.70" lengthAdjust="spacingAndGlyphs">8-2019</text>
<line x1="222.57" y1="472.20" x2="222.57" y2="475.10" stroke="#6e6e6e" stroke-width="1"/>
<text x="0" y="0" transform="translate(227.07,481.00) rotate(-45)" font-size="6.6" font-weight="bold" text-anchor="end" fill="#2a2a2a" stroke="#2a2a2a" stroke-width="0.1" textLength="22.30" lengthAdjust="spacingAndGlyphs">10-2019</text>
<line x1="232.00" y1="472.20" x2="232.00" y2="475.10" stroke="#6e6e6e" stroke-width="1"/>
<text x="0" y="0" transform="translate(236.50,481.00) rotate(-45)" font-size="6.6" font-weight="bold" text-anchor="end" fill="#2a2a2a" stroke="#2a2a2a" stroke-width="0.1" textLength="18.70" lengthAdjust="spacingAndGlyphs">2-2020</text>
<line x1="241.43" y1="472.20" x2="241.43" y2="475.10" stroke="#6e6e6e" stroke-width="1"/>
<text x="0" y="0" transform="translate(245.93,481.00) rotate(-45)" font-size="6.6" font-weight="bold" text-anchor="end" fill="#2a2a2a" stroke="#2a2a2a" stroke-width="0.1" textLength="18.70" lengthAdjust="spacingAndGlyphs">6-2020</text>
<line x1="250.86" y1="472.20" x2="250.86" y2="475.10" stroke="#6e6e6e" stroke-width="1"/>
<text x="0" y="0" transform="translate(255.36,481.00) rotate(-45)" font-size="6.6" font-weight="bold" text-anchor="end" fill="#2a2a2a" stroke="#2a2a2a" stroke-width="0.1" textLength="18.70" lengthAdjust="spacingAndGlyphs">9-2020</text>
<line x1="260.29" y1="472.20" x2="260.29" y2="475.10" stroke="#6e6e6e" stroke-width="1"/>
<text x="0" y="0" transform="translate(264.79,481.00) rotate(-45)" font-size="6.6" font-weight="bold" text-anchor="end" fill="#2a2a2a" stroke="#2a2a2a" stroke-width="0.1" textLength="18.70" lengthAdjust="spacingAndGlyphs">1-2021</text>
<line x1="269.72" y1="472.20" x2="269.72" y2="475.10" stroke="#6e6e6e" stroke-width="1"/>
<text x="0" y="0" transform="translate(274.22,481.00) rotate(-45)" font-size="6.6" font-weight="bold" text-anchor="end" fill="#2a2a2a" stroke="#2a2a2a" stroke-width="0.1" textLength="18.70" lengthAdjust="spacingAndGlyphs">3-2021</text>
<line x1="279.15" y1="472.20" x2="279.15" y2="475.10" stroke="#6e6e6e" stroke-width="1"/>
<text x="0" y="0" transform="translate(283.65,481.00) rotate(-45)" font-size="6.6" font-weight="bold" text-anchor="end" fill="#2a2a2a" stroke="#2a2a2a" stroke-width="0.1" textLength="18.70" lengthAdjust="spacingAndGlyphs">6-2021</text>
<line x1="288.58" y1="472.20" x2="288.58" y2="475.10" stroke="#6e6e6e" stroke-width="1"/>
<text x="0" y="0" transform="translate(293.08,481.00) rotate(-45)" font-size="6.6" font-weight="bold" text-anchor="end" fill="#2a2a2a" stroke="#2a2a2a" stroke-width="0.1" textLength="18.70" lengthAdjust="spacingAndGlyphs">8-2021</text>
<line x1="298.01" y1="472.20" x2="298.01" y2="475.10" stroke="#6e6e6e" stroke-width="1"/>
<text x="0" y="0" transform="translate(302.51,481.00) rotate(-45)" font-size="6.6" font-weight="bold" text-anchor="end" fill="#2a2a2a" stroke="#2a2a2a" stroke-width="0.1" textLength="22.30" lengthAdjust="spacingAndGlyphs">11-2021</text>
<line x1="307.44" y1="472.20" x2="307.44" y2="475.10" stroke="#6e6e6e" stroke-width="1"/>
<text x="0" y="0" transform="translate(311.94,481.00) rotate(-45)" font-size="6.6" font-weight="bold" text-anchor="end" fill="#2a2a2a" stroke="#2a2a2a" stroke-width="0.1" textLength="18.70" lengthAdjust="spacingAndGlyphs">1-2022</text>
<line x1="316.87" y1="472.20" x2="316.87" y2="475.10" stroke="#6e6e6e" stroke-width="1"/>
<text x="0" y="0" transform="translate(321.37,481.00) rotate(-45)" font-size="6.6" font-weight="bold" text-anchor="end" fill="#2a2a2a" stroke="#2a2a2a" stroke-width="0.1" textLength="18.70" lengthAdjust="spacingAndGlyphs">3-2022</text>
<text x="190.60" y="389.00" font-size="9.0" font-weight="normal" text-anchor="start" fill="#222" font-style="italic" textLength="111.20" lengthAdjust="spacingAndGlyphs" stroke="#222" stroke-width="0.12">All firms participating in market</text>
<text x="190.60" y="399.90" font-size="9.0" font-weight="normal" text-anchor="start" fill="#222" font-style="italic" textLength="111.60" lengthAdjust="spacingAndGlyphs" stroke="#222" stroke-width="0.12">(incl. non-community members)</text>
<path d="M162.8 418.9 L236.6 404.0 M231.0 401.3 L236.9 404.0 L232.2 408.0" fill="none" stroke="#b4b4b4" stroke-width="1.9" stroke-linecap="round" stroke-linejoin="round"/>
<text x="0.60" y="373.20" font-size="16.5" font-weight="bold" text-anchor="start" fill="#000" stroke="#000" stroke-width="0.3" textLength="10.20" lengthAdjust="spacingAndGlyphs">B</text>
<text x="0" y="0" transform="translate(10.25,572.50) rotate(-90)" font-size="14" font-weight="bold" text-anchor="start" fill="#000" stroke="#000" stroke-width="0.3" textLength="46.80" lengthAdjust="spacingAndGlyphs">Tender</text>
<text x="0" y="0" transform="translate(10.25,522.40) rotate(-90)" font-size="14" font-weight="bold" text-anchor="start" fill="#000" stroke="#000" stroke-width="0.3" textLength="55.40" lengthAdjust="spacingAndGlyphs">Winning</text>
<text x="0" y="0" transform="translate(10.25,464.30) rotate(-90)" font-size="14" font-weight="bold" text-anchor="start" fill="#000" stroke="#000" stroke-width="0.3" textLength="30.30" lengthAdjust="spacingAndGlyphs">Rate</text>
<text x="0" y="0" transform="translate(10.25,430.80) rotate(-90)" font-size="14" font-weight="bold" text-anchor="start" fill="#000" stroke="#000" stroke-width="0.3" textLength="21.30" lengthAdjust="spacingAndGlyphs">(%)</text>
<line x1="30.80" y1="586.80" x2="330.40" y2="586.80" stroke="#ba585a" stroke-width="2.0" stroke-dasharray="3.6 3.43"/>
<line x1="43.90" y1="546.60" x2="43.90" y2="587.40" stroke="#b9b9b9" stroke-width="1.25"/>
<line x1="53.30" y1="528.80" x2="53.30" y2="591.80" stroke="#b9b9b9" stroke-width="1.25"/>
<line x1="62.71" y1="582.30" x2="62.71" y2="595.70" stroke="#b9b9b9" stroke-width="1.25"/>
<line x1="72.11" y1="574.90" x2="72.11" y2="540.30" stroke="#b9b9b9" stroke-width="1.25"/>
<line x1="81.52" y1="520.90" x2="81.52" y2="575.30" stroke="#b9b9b9" stroke-width="1.25"/>
<line x1="90.92" y1="603.00" x2="90.92" y2="594.10" stroke="#b9b9b9" stroke-width="1.25"/>
<line x1="100.33" y1="576.10" x2="100.33" y2="575.70" stroke="#b9b9b9" stroke-width="1.25"/>
<line x1="109.73" y1="552.40" x2="109.73" y2="613.50" stroke="#b9b9b9" stroke-width="1.25"/>
<line x1="119.14" y1="562.50" x2="119.14" y2="595.30" stroke="#b9b9b9" stroke-width="1.25"/>
<line x1="128.54" y1="510.80" x2="128.54" y2="557.50" stroke="#b9b9b9" stroke-width="1.25"/>
<line x1="137.95" y1="576.10" x2="137.95" y2="608.80" stroke="#b9b9b9" stroke-width="1.25"/>
<line x1="147.35" y1="559.90" x2="147.35" y2="587.20" stroke="#b9b9b9" stroke-width="1.25"/>
<line x1="156.76" y1="572.00" x2="156.76" y2="589.00" stroke="#b9b9b9" stroke-width="1.25"/>
<line x1="166.16" y1="543.70" x2="166.16" y2="591.80" stroke="#b9b9b9" stroke-width="1.25"/>
<line x1="175.57" y1="583.20" x2="175.57" y2="601.60" stroke="#b9b9b9" stroke-width="1.25"/>
<line x1="184.97" y1="565.40" x2="184.97" y2="582.90" stroke="#b9b9b9" stroke-width="1.25"/>
<line x1="194.38" y1="572.00" x2="194.38" y2="604.60" stroke="#b9b9b9" stroke-width="1.25"/>
<line x1="203.78" y1="546.40" x2="203.78" y2="585.60" stroke="#b9b9b9" stroke-width="1.25"/>
<line x1="213.19" y1="555.30" x2="213.19" y2="588.80" stroke="#b9b9b9" stroke-width="1.25"/>
<line x1="222.59" y1="559.50" x2="222.59" y2="589.60" stroke="#b9b9b9" stroke-width="1.25"/>
<line x1="232.00" y1="563.20" x2="232.00" y2="598.70" stroke="#b9b9b9" stroke-width="1.25"/>
<line x1="241.41" y1="533.90" x2="241.41" y2="592.60" stroke="#b9b9b9" stroke-width="1.25"/>
<line x1="250.81" y1="557.30" x2="250.81" y2="589.90" stroke="#b9b9b9" stroke-width="1.25"/>
<line x1="260.21" y1="558.50" x2="260.21" y2="600.50" stroke="#b9b9b9" stroke-width="1.25"/>
<line x1="269.62" y1="531.60" x2="269.62" y2="603.40" stroke="#b9b9b9" stroke-width="1.25"/>
<line x1="279.02" y1="553.40" x2="279.02" y2="592.70" stroke="#b9b9b9" stroke-width="1.25"/>
<line x1="288.43" y1="532.40" x2="288.43" y2="607.40" stroke="#b9b9b9" stroke-width="1.25"/>
<line x1="297.83" y1="568.00" x2="297.83" y2="603.40" stroke="#b9b9b9" stroke-width="1.25"/>
<line x1="307.24" y1="557.30" x2="307.24" y2="595.30" stroke="#b9b9b9" stroke-width="1.25"/>
<line x1="316.64" y1="543.90" x2="316.64" y2="591.00" stroke="#b9b9b9" stroke-width="1.25"/>
<circle cx="43.90" cy="546.60" r="3.05" fill="#59a8ec"/>
<circle cx="53.30" cy="528.80" r="3.05" fill="#59a8ec"/>
<circle cx="62.71" cy="582.30" r="3.05" fill="#59a8ec"/>
<circle cx="72.11" cy="574.90" r="3.05" fill="#59a8ec"/>
<circle cx="81.52" cy="520.90" r="3.05" fill="#59a8ec"/>
<circle cx="90.92" cy="603.00" r="3.05" fill="#59a8ec"/>
<circle cx="100.33" cy="576.10" r="3.05" fill="#59a8ec"/>
<circle cx="109.73" cy="552.40" r="3.05" fill="#59a8ec"/>
<circle cx="119.14" cy="562.50" r="3.05" fill="#59a8ec"/>
<circle cx="128.54" cy="510.80" r="3.05" fill="#59a8ec"/>
<circle cx="137.95" cy="576.10" r="3.05" fill="#8561cb"/>
<circle cx="147.35" cy="559.90" r="3.05" fill="#8561cb"/>
<circle cx="156.76" cy="572.00" r="3.05" fill="#8561cb"/>
<circle cx="166.16" cy="543.70" r="3.05" fill="#8561cb"/>
<circle cx="175.57" cy="583.20" r="3.05" fill="#8561cb"/>
<circle cx="184.97" cy="565.40" r="3.05" fill="#8561cb"/>
<circle cx="194.38" cy="572.00" r="3.05" fill="#8561cb"/>
<circle cx="203.78" cy="546.40" r="3.05" fill="#8561cb"/>
<circle cx="213.19" cy="555.30" r="3.05" fill="#8561cb"/>
<circle cx="222.59" cy="559.50" r="3.05" fill="#8561cb"/>
<circle cx="232.00" cy="563.20" r="3.05" fill="#3cb26f"/>
<circle cx="241.41" cy="533.90" r="3.05" fill="#3cb26f"/>
<circle cx="250.81" cy="557.30" r="3.05" fill="#3cb26f"/>
<circle cx="260.21" cy="558.50" r="3.05" fill="#3cb26f"/>
<circle cx="269.62" cy="531.60" r="3.05" fill="#3cb26f"/>
<circle cx="279.02" cy="553.40" r="3.05" fill="#3cb26f"/>
<circle cx="288.43" cy="532.40" r="3.05" fill="#3cb26f"/>
<circle cx="297.83" cy="568.00" r="3.05" fill="#3cb26f"/>
<circle cx="307.24" cy="557.30" r="3.05" fill="#3cb26f"/>
<circle cx="316.64" cy="543.90" r="3.05" fill="#3cb26f"/>
<polygon points="41.15,587.40 42.45,585.45 45.35,585.45 46.65,587.40 45.35,589.35 42.45,589.35" fill="#b5b5b5"/>
<polygon points="50.55,591.80 51.85,589.85 54.76,589.85 56.05,591.80 54.76,593.75 51.85,593.75" fill="#b5b5b5"/>
<polygon points="59.96,595.70 61.26,593.75 64.16,593.75 65.46,595.70 64.16,597.65 61.26,597.65" fill="#b5b5b5"/>
<polygon points="69.36,540.30 70.66,538.35 73.56,538.35 74.86,540.30 73.56,542.25 70.66,542.25" fill="#b5b5b5"/>
<polygon points="78.77,575.30 80.07,573.35 82.97,573.35 84.27,575.30 82.97,577.25 80.07,577.25" fill="#b5b5b5"/>
<polygon points="88.17,594.10 89.47,592.15 92.38,592.15 93.67,594.10 92.38,596.05 89.47,596.05" fill="#b5b5b5"/>
<polygon points="97.58,575.70 98.88,573.75 101.78,573.75 103.08,575.70 101.78,577.65 98.88,577.65" fill="#b5b5b5"/>
<polygon points="106.98,613.50 108.28,611.55 111.18,611.55 112.48,613.50 111.18,615.45 108.28,615.45" fill="#b5b5b5"/>
<polygon points="116.39,595.30 117.69,593.35 120.59,593.35 121.89,595.30 120.59,597.25 117.69,597.25" fill="#b5b5b5"/>
<polygon points="125.79,557.50 127.09,555.55 129.99,555.55 131.29,557.50 129.99,559.45 127.09,559.45" fill="#b5b5b5"/>
<polygon points="135.20,608.80 136.50,606.85 139.40,606.85 140.70,608.80 139.40,610.75 136.50,610.75" fill="#b5b5b5"/>
<polygon points="144.60,587.20 145.91,585.25 148.80,585.25 150.10,587.20 148.80,589.15 145.91,589.15" fill="#b5b5b5"/>
<polygon points="154.01,589.00 155.31,587.05 158.21,587.05 159.51,589.00 158.21,590.95 155.31,590.95" fill="#b5b5b5"/>
<polygon points="163.41,591.80 164.72,589.85 167.61,589.85 168.91,591.80 167.61,593.75 164.72,593.75" fill="#b5b5b5"/>
<polygon points="172.82,601.60 174.12,599.65 177.02,599.65 178.32,601.60 177.02,603.55 174.12,603.55" fill="#b5b5b5"/>
<polygon points="182.22,582.90 183.53,580.95 186.42,580.95 187.72,582.90 186.42,584.85 183.53,584.85" fill="#b5b5b5"/>
<polygon points="191.63,604.60 192.93,602.65 195.83,602.65 197.13,604.60 195.83,606.55 192.93,606.55" fill="#b5b5b5"/>
<polygon points="201.03,585.60 202.34,583.65 205.23,583.65 206.53,585.60 205.23,587.55 202.34,587.55" fill="#b5b5b5"/>
<polygon points="210.44,588.80 211.74,586.85 214.64,586.85 215.94,588.80 214.64,590.75 211.74,590.75" fill="#b5b5b5"/>
<polygon points="219.84,589.60 221.15,587.65 224.04,587.65 225.34,589.60 224.04,591.55 221.15,591.55" fill="#b5b5b5"/>
<polygon points="229.25,598.70 230.55,596.75 233.45,596.75 234.75,598.70 233.45,600.65 230.55,600.65" fill="#b5b5b5"/>
<polygon points="238.66,592.60 239.96,590.65 242.85,590.65 244.16,592.60 242.85,594.55 239.96,594.55" fill="#b5b5b5"/>
<polygon points="248.06,589.90 249.36,587.95 252.26,587.95 253.56,589.90 252.26,591.85 249.36,591.85" fill="#b5b5b5"/>
<polygon points="257.46,600.50 258.76,598.55 261.66,598.55 262.96,600.50 261.66,602.45 258.76,602.45" fill="#b5b5b5"/>
<polygon points="266.87,603.40 268.17,601.45 271.07,601.45 272.37,603.40 271.07,605.35 268.17,605.35" fill="#b5b5b5"/>
<polygon points="276.27,592.70 277.57,590.75 280.47,590.75 281.77,592.70 280.47,594.65 277.57,594.65" fill="#b5b5b5"/>
<polygon points="285.68,607.40 286.98,605.45 289.88,605.45 291.18,607.40 289.88,609.35 286.98,609.35" fill="#b5b5b5"/>
<polygon points="295.08,603.40 296.38,601.45 299.28,601.45 300.58,603.40 299.28,605.35 296.38,605.35" fill="#b5b5b5"/>
<polygon points="304.49,595.30 305.79,593.35 308.69,593.35 309.99,595.30 308.69,597.25 305.79,597.25" fill="#b5b5b5"/>
<polygon points="313.89,591.00 315.19,589.05 318.09,589.05 319.39,591.00 318.09,592.95 315.19,592.95" fill="#b5b5b5"/>
<rect x="30.40" y="505.40" width="300.00" height="113.20" fill="none" stroke="#6e6e6e" stroke-width="1"/>
<line x1="27.60" y1="590.80" x2="30.40" y2="590.80" stroke="#6e6e6e" stroke-width="1"/>
<text x="26.30" y="593.90" font-size="8.8" font-weight="bold" text-anchor="end" fill="#1a1a1a" stroke="#1a1a1a" stroke-width="0.22" textLength="9.40" lengthAdjust="spacingAndGlyphs">20</text>
<line x1="27.60" y1="549.60" x2="30.40" y2="549.60" stroke="#6e6e6e" stroke-width="1"/>
<text x="26.30" y="552.70" font-size="8.8" font-weight="bold" text-anchor="end" fill="#1a1a1a" stroke="#1a1a1a" stroke-width="0.22" textLength="9.40" lengthAdjust="spacingAndGlyphs">30</text>
<line x1="27.60" y1="508.40" x2="30.40" y2="508.40" stroke="#6e6e6e" stroke-width="1"/>
<text x="26.30" y="511.50" font-size="8.8" font-weight="bold" text-anchor="end" fill="#1a1a1a" stroke="#1a1a1a" stroke-width="0.22" textLength="9.40" lengthAdjust="spacingAndGlyphs">40</text>
<line x1="28.70" y1="611.40" x2="30.40" y2="611.40" stroke="#6e6e6e" stroke-width="0.8"/>
<line x1="28.70" y1="570.20" x2="30.40" y2="570.20" stroke="#6e6e6e" stroke-width="0.8"/>
<line x1="28.70" y1="529.00" x2="30.40" y2="529.00" stroke="#6e6e6e" stroke-width="0.8"/>
<line x1="43.90" y1="618.60" x2="43.90" y2="621.50" stroke="#6e6e6e" stroke-width="1"/>
<text x="0" y="0" transform="translate(48.40,627.40) rotate(-45)" font-size="6.6" font-weight="bold" text-anchor="end" fill="#2a2a2a" stroke="#2a2a2a" stroke-width="0.1" textLength="18.70" lengthAdjust="spacingAndGlyphs">6-2012</text>
<line x1="53.30" y1="618.60" x2="53.30" y2="621.50" stroke="#6e6e6e" stroke-width="1"/>
<text x="0" y="0" transform="translate(57.80,627.40) rotate(-45)" font-size="6.6" font-weight="bold" text-anchor="end" fill="#2a2a2a" stroke="#2a2a2a" stroke-width="0.1" textLength="22.30" lengthAdjust="spacingAndGlyphs">11-2012</text>
<line x1="62.71" y1="618.60" x2="62.71" y2="621.50" stroke="#6e6e6e" stroke-width="1"/>
<text x="0" y="0" transform="translate(67.21,627.40) rotate(-45)" font-size="6.6" font-weight="bold" text-anchor="end" fill="#2a2a2a" stroke="#2a2a2a" stroke-width="0.1" textLength="18.70" lengthAdjust="spacingAndGlyphs">8-2013</text>
<line x1="72.11" y1="618.60" x2="72.11" y2="621.50" stroke="#6e6e6e" stroke-width="1"/>
<text x="0" y="0" transform="translate(76.61,627.40) rotate(-45)" font-size="6.6" font-weight="bold" text-anchor="end" fill="#2a2a2a" stroke="#2a2a2a" stroke-width="0.1" textLength="18.70" lengthAdjust="spacingAndGlyphs">1-2014</text>
<line x1="81.52" y1="618.60" x2="81.52" y2="621.50" stroke="#6e6e6e" stroke-width="1"/>
<text x="0" y="0" transform="translate(86.02,627.40) rotate(-45)" font-size="6.6" font-weight="bold" text-anchor="end" fill="#2a2a2a" stroke="#2a2a2a" stroke-width="0.1" textLength="18.70" lengthAdjust="spacingAndGlyphs">5-2014</text>
<line x1="90.92" y1="618.60" x2="90.92" y2="621.50" stroke="#6e6e6e" stroke-width="1"/>
<text x="0" y="0" transform="translate(95.42,627.40) rotate(-45)" font-size="6.6" font-weight="bold" text-anchor="end" fill="#2a2a2a" stroke="#2a2a2a" stroke-width="0.1" textLength="22.30" lengthAdjust="spacingAndGlyphs">10-2014</text>
<line x1="100.33" y1="618.60" x2="100.33" y2="621.50" stroke="#6e6e6e" stroke-width="1"/>
<text x="0" y="0" transform="translate(104.83,627.40) rotate(-45)" font-size="6.6" font-weight="bold" text-anchor="end" fill="#2a2a2a" stroke="#2a2a2a" stroke-width="0.1" textLength="18.70" lengthAdjust="spacingAndGlyphs">3-2015</text>
<line x1="109.73" y1="618.60" x2="109.73" y2="621.50" stroke="#6e6e6e" stroke-width="1"/>
<text x="0" y="0" transform="translate(114.23,627.40) rotate(-45)" font-size="6.6" font-weight="bold" text-anchor="end" fill="#2a2a2a" stroke="#2a2a2a" stroke-width="0.1" textLength="18.70" lengthAdjust="spacingAndGlyphs">6-2015</text>
<line x1="119.14" y1="618.60" x2="119.14" y2="621.50" stroke="#6e6e6e" stroke-width="1"/>
<text x="0" y="0" transform="translate(123.64,627.40) rotate(-45)" font-size="6.6" font-weight="bold" text-anchor="end" fill="#2a2a2a" stroke="#2a2a2a" stroke-width="0.1" textLength="18.70" lengthAdjust="spacingAndGlyphs">8-2015</text>
<line x1="128.54" y1="618.60" x2="128.54" y2="621.50" stroke="#6e6e6e" stroke-width="1"/>
<text x="0" y="0" transform="translate(133.04,627.40) rotate(-45)" font-size="6.6" font-weight="bold" text-anchor="end" fill="#2a2a2a" stroke="#2a2a2a" stroke-width="0.1" textLength="22.30" lengthAdjust="spacingAndGlyphs">10-2015</text>
<line x1="137.95" y1="618.60" x2="137.95" y2="621.50" stroke="#6e6e6e" stroke-width="1"/>
<text x="0" y="0" transform="translate(142.45,627.40) rotate(-45)" font-size="6.6" font-weight="bold" text-anchor="end" fill="#2a2a2a" stroke="#2a2a2a" stroke-width="0.1" textLength="18.70" lengthAdjust="spacingAndGlyphs">9-2016</text>
<line x1="147.35" y1="618.60" x2="147.35" y2="621.50" stroke="#6e6e6e" stroke-width="1"/>
<text x="0" y="0" transform="translate(151.85,627.40) rotate(-45)" font-size="6.6" font-weight="bold" text-anchor="end" fill="#2a2a2a" stroke="#2a2a2a" stroke-width="0.1" textLength="18.70" lengthAdjust="spacingAndGlyphs">4-2017</text>
<line x1="156.76" y1="618.60" x2="156.76" y2="621.50" stroke="#6e6e6e" stroke-width="1"/>
<text x="0" y="0" transform="translate(161.26,627.40) rotate(-45)" font-size="6.6" font-weight="bold" text-anchor="end" fill="#2a2a2a" stroke="#2a2a2a" stroke-width="0.1" textLength="22.30" lengthAdjust="spacingAndGlyphs">10-2017</text>
<line x1="166.16" y1="618.60" x2="166.16" y2="621.50" stroke="#6e6e6e" stroke-width="1"/>
<text x="0" y="0" transform="translate(170.66,627.40) rotate(-45)" font-size="6.6" font-weight="bold" text-anchor="end" fill="#2a2a2a" stroke="#2a2a2a" stroke-width="0.1" textLength="18.70" lengthAdjust="spacingAndGlyphs">3-2018</text>
<line x1="175.57" y1="618.60" x2="175.57" y2="621.50" stroke="#6e6e6e" stroke-width="1"/>
<text x="0" y="0" transform="translate(180.07,627.40) rotate(-45)" font-size="6.6" font-weight="bold" text-anchor="end" fill="#2a2a2a" stroke="#2a2a2a" stroke-width="0.1" textLength="18.70" lengthAdjust="spacingAndGlyphs">7-2018</text>
<line x1="184.97" y1="618.60" x2="184.97" y2="621.50" stroke="#6e6e6e" stroke-width="1"/>
<text x="0" y="0" transform="translate(189.47,627.40) rotate(-45)" font-size="6.6" font-weight="bold" text-anchor="end" fill="#2a2a2a" stroke="#2a2a2a" stroke-width="0.1" textLength="22.30" lengthAdjust="spacingAndGlyphs">11-2018</text>
<line x1="194.38" y1="618.60" x2="194.38" y2="621.50" stroke="#6e6e6e" stroke-width="1"/>
<text x="0" y="0" transform="translate(198.88,627.40) rotate(-45)" font-size="6.6" font-weight="bold" text-anchor="end" fill="#2a2a2a" stroke="#2a2a2a" stroke-width="0.1" textLength="18.70" lengthAdjust="spacingAndGlyphs">4-2019</text>
<line x1="203.78" y1="618.60" x2="203.78" y2="621.50" stroke="#6e6e6e" stroke-width="1"/>
<text x="0" y="0" transform="translate(208.28,627.40) rotate(-45)" font-size="6.6" font-weight="bold" text-anchor="end" fill="#2a2a2a" stroke="#2a2a2a" stroke-width="0.1" textLength="18.70" lengthAdjust="spacingAndGlyphs">7-2019</text>
<line x1="213.19" y1="618.60" x2="213.19" y2="621.50" stroke="#6e6e6e" stroke-width="1"/>
<text x="0" y="0" transform="translate(217.69,627.40) rotate(-45)" font-size="6.6" font-weight="bold" text-anchor="end" fill="#2a2a2a" stroke="#2a2a2a" stroke-width="0.1" textLength="18.70" lengthAdjust="spacingAndGlyphs">8-2019</text>
<line x1="222.59" y1="618.60" x2="222.59" y2="621.50" stroke="#6e6e6e" stroke-width="1"/>
<text x="0" y="0" transform="translate(227.09,627.40) rotate(-45)" font-size="6.6" font-weight="bold" text-anchor="end" fill="#2a2a2a" stroke="#2a2a2a" stroke-width="0.1" textLength="22.30" lengthAdjust="spacingAndGlyphs">10-2019</text>
<line x1="232.00" y1="618.60" x2="232.00" y2="621.50" stroke="#6e6e6e" stroke-width="1"/>
<text x="0" y="0" transform="translate(236.50,627.40) rotate(-45)" font-size="6.6" font-weight="bold" text-anchor="end" fill="#2a2a2a" stroke="#2a2a2a" stroke-width="0.1" textLength="18.70" lengthAdjust="spacingAndGlyphs">1-2020</text>
<line x1="241.41" y1="618.60" x2="241.41" y2="621.50" stroke="#6e6e6e" stroke-width="1"/>
<text x="0" y="0" transform="translate(245.91,627.40) rotate(-45)" font-size="6.6" font-weight="bold" text-anchor="end" fill="#2a2a2a" stroke="#2a2a2a" stroke-width="0.1" textLength="18.70" lengthAdjust="spacingAndGlyphs">4-2020</text>
<line x1="250.81" y1="618.60" x2="250.81" y2="621.50" stroke="#6e6e6e" stroke-width="1"/>
<text x="0" y="0" transform="translate(255.31,627.40) rotate(-45)" font-size="6.6" font-weight="bold" text-anchor="end" fill="#2a2a2a" stroke="#2a2a2a" stroke-width="0.1" textLength="18.70" lengthAdjust="spacingAndGlyphs">7-2020</text>
<line x1="260.21" y1="618.60" x2="260.21" y2="621.50" stroke="#6e6e6e" stroke-width="1"/>
<text x="0" y="0" transform="translate(264.71,627.40) rotate(-45)" font-size="6.6" font-weight="bold" text-anchor="end" fill="#2a2a2a" stroke="#2a2a2a" stroke-width="0.1" textLength="22.30" lengthAdjust="spacingAndGlyphs">10-2020</text>
<line x1="269.62" y1="618.60" x2="269.62" y2="621.50" stroke="#6e6e6e" stroke-width="1"/>
<text x="0" y="0" transform="translate(274.12,627.40) rotate(-45)" font-size="6.6" font-weight="bold" text-anchor="end" fill="#2a2a2a" stroke="#2a2a2a" stroke-width="0.1" textLength="22.30" lengthAdjust="spacingAndGlyphs">12-2020</text>
<line x1="279.02" y1="618.60" x2="279.02" y2="621.50" stroke="#6e6e6e" stroke-width="1"/>
<text x="0" y="0" transform="translate(283.52,627.40) rotate(-45)" font-size="6.6" font-weight="bold" text-anchor="end" fill="#2a2a2a" stroke="#2a2a2a" stroke-width="0.1" textLength="18.70" lengthAdjust="spacingAndGlyphs">4-2021</text>
<line x1="288.43" y1="618.60" x2="288.43" y2="621.50" stroke="#6e6e6e" stroke-width="1"/>
<text x="0" y="0" transform="translate(292.93,627.40) rotate(-45)" font-size="6.6" font-weight="bold" text-anchor="end" fill="#2a2a2a" stroke="#2a2a2a" stroke-width="0.1" textLength="18.70" lengthAdjust="spacingAndGlyphs">6-2021</text>
<line x1="297.83" y1="618.60" x2="297.83" y2="621.50" stroke="#6e6e6e" stroke-width="1"/>
<text x="0" y="0" transform="translate(302.33,627.40) rotate(-45)" font-size="6.6" font-weight="bold" text-anchor="end" fill="#2a2a2a" stroke="#2a2a2a" stroke-width="0.1" textLength="18.70" lengthAdjust="spacingAndGlyphs">9-2021</text>
<line x1="307.24" y1="618.60" x2="307.24" y2="621.50" stroke="#6e6e6e" stroke-width="1"/>
<text x="0" y="0" transform="translate(311.74,627.40) rotate(-45)" font-size="6.6" font-weight="bold" text-anchor="end" fill="#2a2a2a" stroke="#2a2a2a" stroke-width="0.1" textLength="22.30" lengthAdjust="spacingAndGlyphs">12-2021</text>
<line x1="316.64" y1="618.60" x2="316.64" y2="621.50" stroke="#6e6e6e" stroke-width="1"/>
<text x="0" y="0" transform="translate(321.14,627.40) rotate(-45)" font-size="6.6" font-weight="bold" text-anchor="end" fill="#2a2a2a" stroke="#2a2a2a" stroke-width="0.1" textLength="18.70" lengthAdjust="spacingAndGlyphs">3-2022</text>
<text x="171.60" y="656.30" font-size="13.5" font-weight="bold" text-anchor="middle" fill="#000" stroke="#000" stroke-width="0.3" textLength="31.20" lengthAdjust="spacingAndGlyphs">Time</text>
<line x1="383.70" y1="466.40" x2="654.56" y2="466.40" stroke="#d6d6d6" stroke-width="1.5"/>
<line x1="383.70" y1="453.50" x2="383.70" y2="466.40" stroke="#5e5e5e" stroke-width="1"/>
<line x1="393.04" y1="450.20" x2="393.04" y2="466.40" stroke="#5e5e5e" stroke-width="1"/>
<line x1="402.38" y1="442.70" x2="402.38" y2="466.40" stroke="#5e5e5e" stroke-width="1"/>
<line x1="411.72" y1="445.60" x2="411.72" y2="466.40" stroke="#5e5e5e" stroke-width="1"/>
<line x1="421.06" y1="438.50" x2="421.06" y2="466.40" stroke="#5e5e5e" stroke-width="1"/>
<line x1="430.40" y1="441.30" x2="430.40" y2="466.40" stroke="#5e5e5e" stroke-width="1"/>
<line x1="439.74" y1="444.80" x2="439.74" y2="466.40" stroke="#5e5e5e" stroke-width="1"/>
<line x1="449.08" y1="444.60" x2="449.08" y2="466.40" stroke="#5e5e5e" stroke-width="1"/>
<line x1="458.42" y1="446.20" x2="458.42" y2="466.40" stroke="#5e5e5e" stroke-width="1"/>
<line x1="467.76" y1="448.20" x2="467.76" y2="466.40" stroke="#5e5e5e" stroke-width="1"/>
<line x1="477.10" y1="416.10" x2="477.10" y2="466.40" stroke="#5e5e5e" stroke-width="1"/>
<line x1="486.44" y1="425.40" x2="486.44" y2="466.40" stroke="#5e5e5e" stroke-width="1"/>
<line x1="495.78" y1="434.50" x2="495.78" y2="466.40" stroke="#5e5e5e" stroke-width="1"/>
<line x1="505.12" y1="413.40" x2="505.12" y2="466.40" stroke="#5e5e5e" stroke-width="1"/>
<line x1="514.46" y1="416.30" x2="514.46" y2="466.40" stroke="#5e5e5e" stroke-width="1"/>
<line x1="523.80" y1="409.40" x2="523.80" y2="466.40" stroke="#5e5e5e" stroke-width="1"/>
<line x1="533.14" y1="408.40" x2="533.14" y2="466.40" stroke="#5e5e5e" stroke-width="1"/>
<line x1="542.48" y1="422.10" x2="542.48" y2="466.40" stroke="#5e5e5e" stroke-width="1"/>
<line x1="551.82" y1="407.20" x2="551.82" y2="466.40" stroke="#5e5e5e" stroke-width="1"/>
<line x1="561.16" y1="414.40" x2="561.16" y2="466.40" stroke="#5e5e5e" stroke-width="1"/>
<line x1="570.50" y1="394.00" x2="570.50" y2="466.40" stroke="#5e5e5e" stroke-width="1"/>
<line x1="579.84" y1="405.90" x2="579.84" y2="466.40" stroke="#5e5e5e" stroke-width="1"/>
<line x1="589.18" y1="410.60" x2="589.18" y2="466.40" stroke="#5e5e5e" stroke-width="1"/>
<line x1="598.52" y1="403.90" x2="598.52" y2="466.40" stroke="#5e5e5e" stroke-width="1"/>
<line x1="607.86" y1="387.10" x2="607.86" y2="466.40" stroke="#5e5e5e" stroke-width="1"/>
<line x1="617.20" y1="398.90" x2="617.20" y2="466.40" stroke="#5e5e5e" stroke-width="1"/>
<line x1="626.54" y1="400.90" x2="626.54" y2="466.40" stroke="#5e5e5e" stroke-width="1"/>
<line x1="635.88" y1="399.90" x2="635.88" y2="466.40" stroke="#5e5e5e" stroke-width="1"/>
<line x1="645.22" y1="384.90" x2="645.22" y2="466.40" stroke="#5e5e5e" stroke-width="1"/>
<line x1="654.56" y1="363.90" x2="654.56" y2="466.40" stroke="#5e5e5e" stroke-width="1"/>
<circle cx="383.70" cy="453.50" r="2.60" fill="#59a8ec"/>
<circle cx="393.04" cy="450.20" r="2.60" fill="#59a8ec"/>
<circle cx="402.38" cy="442.70" r="2.60" fill="#59a8ec"/>
<circle cx="411.72" cy="445.60" r="2.60" fill="#59a8ec"/>
<circle cx="421.06" cy="438.50" r="2.60" fill="#59a8ec"/>
<circle cx="430.40" cy="441.30" r="2.60" fill="#59a8ec"/>
<circle cx="439.74" cy="444.80" r="2.60" fill="#59a8ec"/>
<circle cx="449.08" cy="444.60" r="2.60" fill="#59a8ec"/>
<circle cx="458.42" cy="446.20" r="2.60" fill="#59a8ec"/>
<circle cx="467.76" cy="448.20" r="2.60" fill="#59a8ec"/>
<circle cx="477.10" cy="416.10" r="2.60" fill="#8561cb"/>
<circle cx="486.44" cy="425.40" r="2.60" fill="#8561cb"/>
<circle cx="495.78" cy="434.50" r="2.60" fill="#8561cb"/>
<circle cx="505.12" cy="413.40" r="2.60" fill="#8561cb"/>
<circle cx="514.46" cy="416.30" r="2.60" fill="#8561cb"/>
<circle cx="523.80" cy="409.40" r="2.60" fill="#8561cb"/>
<circle cx="533.14" cy="408.40" r="2.60" fill="#8561cb"/>
<circle cx="542.48" cy="422.10" r="2.60" fill="#8561cb"/>
<circle cx="551.82" cy="407.20" r="2.60" fill="#8561cb"/>
<circle cx="561.16" cy="414.40" r="2.60" fill="#8561cb"/>
<circle cx="570.50" cy="394.00" r="2.60" fill="#3cb26f"/>
<circle cx="579.84" cy="405.90" r="2.60" fill="#3cb26f"/>
<circle cx="589.18" cy="410.60" r="2.60" fill="#3cb26f"/>
<circle cx="598.52" cy="403.90" r="2.60" fill="#3cb26f"/>
<circle cx="607.86" cy="387.10" r="2.60" fill="#3cb26f"/>
<circle cx="617.20" cy="398.90" r="2.60" fill="#3cb26f"/>
<circle cx="626.54" cy="400.90" r="2.60" fill="#3cb26f"/>
<circle cx="635.88" cy="399.90" r="2.60" fill="#3cb26f"/>
<circle cx="645.22" cy="384.90" r="2.60" fill="#3cb26f"/>
<circle cx="654.56" cy="363.90" r="2.60" fill="#3cb26f"/>
<rect x="370.40" y="358.90" width="298.00" height="112.60" fill="none" stroke="#6e6e6e" stroke-width="1"/>
<line x1="367.40" y1="466.40" x2="370.40" y2="466.40" stroke="#6e6e6e" stroke-width="1"/>
<text x="364.20" y="469.50" font-size="8.8" font-weight="bold" text-anchor="end" fill="#1a1a1a" stroke="#1a1a1a" stroke-width="0.22" textLength="4.80" lengthAdjust="spacingAndGlyphs">0</text>
<line x1="367.40" y1="444.67" x2="370.40" y2="444.67" stroke="#6e6e6e" stroke-width="1"/>
<text x="364.20" y="447.77" font-size="8.8" font-weight="bold" text-anchor="end" fill="#1a1a1a" stroke="#1a1a1a" stroke-width="0.22" textLength="4.80" lengthAdjust="spacingAndGlyphs">5</text>
<line x1="367.40" y1="422.94" x2="370.40" y2="422.94" stroke="#6e6e6e" stroke-width="1"/>
<text x="364.20" y="426.04" font-size="8.8" font-weight="bold" text-anchor="end" fill="#1a1a1a" stroke="#1a1a1a" stroke-width="0.22" textLength="9.40" lengthAdjust="spacingAndGlyphs">10</text>
<line x1="367.40" y1="401.21" x2="370.40" y2="401.21" stroke="#6e6e6e" stroke-width="1"/>
<text x="364.20" y="404.31" font-size="8.8" font-weight="bold" text-anchor="end" fill="#1a1a1a" stroke="#1a1a1a" stroke-width="0.22" textLength="9.40" lengthAdjust="spacingAndGlyphs">15</text>
<line x1="367.40" y1="379.48" x2="370.40" y2="379.48" stroke="#6e6e6e" stroke-width="1"/>
<text x="364.20" y="382.58" font-size="8.8" font-weight="bold" text-anchor="end" fill="#1a1a1a" stroke="#1a1a1a" stroke-width="0.22" textLength="9.40" lengthAdjust="spacingAndGlyphs">20</text>
<line x1="368.60" y1="455.53" x2="370.40" y2="455.53" stroke="#6e6e6e" stroke-width="0.8"/>
<line x1="368.60" y1="433.80" x2="370.40" y2="433.80" stroke="#6e6e6e" stroke-width="0.8"/>
<line x1="368.60" y1="412.07" x2="370.40" y2="412.07" stroke="#6e6e6e" stroke-width="0.8"/>
<line x1="368.60" y1="390.34" x2="370.40" y2="390.34" stroke="#6e6e6e" stroke-width="0.8"/>
<line x1="368.60" y1="368.62" x2="370.40" y2="368.62" stroke="#6e6e6e" stroke-width="0.8"/>
<line x1="383.70" y1="471.50" x2="383.70" y2="474.40" stroke="#6e6e6e" stroke-width="1"/>
<text x="0" y="0" transform="translate(388.20,480.30) rotate(-45)" font-size="6.6" font-weight="bold" text-anchor="end" fill="#2a2a2a" stroke="#2a2a2a" stroke-width="0.1" textLength="18.70" lengthAdjust="spacingAndGlyphs">1-2013</text>
<line x1="393.04" y1="471.50" x2="393.04" y2="474.40" stroke="#6e6e6e" stroke-width="1"/>
<text x="0" y="0" transform="translate(397.54,480.30) rotate(-45)" font-size="6.6" font-weight="bold" text-anchor="end" fill="#2a2a2a" stroke="#2a2a2a" stroke-width="0.1" textLength="22.30" lengthAdjust="spacingAndGlyphs">11-2013</text>
<line x1="402.38" y1="471.50" x2="402.38" y2="474.40" stroke="#6e6e6e" stroke-width="1"/>
<text x="0" y="0" transform="translate(406.88,480.30) rotate(-45)" font-size="6.6" font-weight="bold" text-anchor="end" fill="#2a2a2a" stroke="#2a2a2a" stroke-width="0.1" textLength="18.70" lengthAdjust="spacingAndGlyphs">3-2014</text>
<line x1="411.72" y1="471.50" x2="411.72" y2="474.40" stroke="#6e6e6e" stroke-width="1"/>
<text x="0" y="0" transform="translate(416.22,480.30) rotate(-45)" font-size="6.6" font-weight="bold" text-anchor="end" fill="#2a2a2a" stroke="#2a2a2a" stroke-width="0.1" textLength="18.70" lengthAdjust="spacingAndGlyphs">5-2014</text>
<line x1="421.06" y1="471.50" x2="421.06" y2="474.40" stroke="#6e6e6e" stroke-width="1"/>
<text x="0" y="0" transform="translate(425.56,480.30) rotate(-45)" font-size="6.6" font-weight="bold" text-anchor="end" fill="#2a2a2a" stroke="#2a2a2a" stroke-width="0.1" textLength="18.70" lengthAdjust="spacingAndGlyphs">8-2014</text>
<line x1="430.40" y1="471.50" x2="430.40" y2="474.40" stroke="#6e6e6e" stroke-width="1"/>
<text x="0" y="0" transform="translate(434.90,480.30) rotate(-45)" font-size="6.6" font-weight="bold" text-anchor="end" fill="#2a2a2a" stroke="#2a2a2a" stroke-width="0.1" textLength="22.30" lengthAdjust="spacingAndGlyphs">11-2014</text>
<line x1="439.74" y1="471.50" x2="439.74" y2="474.40" stroke="#6e6e6e" stroke-width="1"/>
<text x="0" y="0" transform="translate(444.24,480.30) rotate(-45)" font-size="6.6" font-weight="bold" text-anchor="end" fill="#2a2a2a" stroke="#2a2a2a" stroke-width="0.1" textLength="18.70" lengthAdjust="spacingAndGlyphs">1-2015</text>
<line x1="449.08" y1="471.50" x2="449.08" y2="474.40" stroke="#6e6e6e" stroke-width="1"/>
<text x="0" y="0" transform="translate(453.58,480.30) rotate(-45)" font-size="6.6" font-weight="bold" text-anchor="end" fill="#2a2a2a" stroke="#2a2a2a" stroke-width="0.1" textLength="18.70" lengthAdjust="spacingAndGlyphs">3-2015</text>
<line x1="458.42" y1="471.50" x2="458.42" y2="474.40" stroke="#6e6e6e" stroke-width="1"/>
<text x="0" y="0" transform="translate(462.92,480.30) rotate(-45)" font-size="6.6" font-weight="bold" text-anchor="end" fill="#2a2a2a" stroke="#2a2a2a" stroke-width="0.1" textLength="18.70" lengthAdjust="spacingAndGlyphs">7-2015</text>
<line x1="467.76" y1="471.50" x2="467.76" y2="474.40" stroke="#6e6e6e" stroke-width="1"/>
<text x="0" y="0" transform="translate(472.26,480.30) rotate(-45)" font-size="6.6" font-weight="bold" text-anchor="end" fill="#2a2a2a" stroke="#2a2a2a" stroke-width="0.1" textLength="22.30" lengthAdjust="spacingAndGlyphs">10-2015</text>
<line x1="477.10" y1="471.50" x2="477.10" y2="474.40" stroke="#6e6e6e" stroke-width="1"/>
<text x="0" y="0" transform="translate(481.60,480.30) rotate(-45)" font-size="6.6" font-weight="bold" text-anchor="end" fill="#2a2a2a" stroke="#2a2a2a" stroke-width="0.1" textLength="18.70" lengthAdjust="spacingAndGlyphs">8-2016</text>
<line x1="486.44" y1="471.50" x2="486.44" y2="474.40" stroke="#6e6e6e" stroke-width="1"/>
<text x="0" y="0" transform="translate(490.94,480.30) rotate(-45)" font-size="6.6" font-weight="bold" text-anchor="end" fill="#2a2a2a" stroke="#2a2a2a" stroke-width="0.1" textLength="18.70" lengthAdjust="spacingAndGlyphs">6-2017</text>
<line x1="495.78" y1="471.50" x2="495.78" y2="474.40" stroke="#6e6e6e" stroke-width="1"/>
<text x="0" y="0" transform="translate(500.28,480.30) rotate(-45)" font-size="6.6" font-weight="bold" text-anchor="end" fill="#2a2a2a" stroke="#2a2a2a" stroke-width="0.1" textLength="18.70" lengthAdjust="spacingAndGlyphs">1-2018</text>
<line x1="505.12" y1="471.50" x2="505.12" y2="474.40" stroke="#6e6e6e" stroke-width="1"/>
<text x="0" y="0" transform="translate(509.62,480.30) rotate(-45)" font-size="6.6" font-weight="bold" text-anchor="end" fill="#2a2a2a" stroke="#2a2a2a" stroke-width="0.1" textLength="18.70" lengthAdjust="spacingAndGlyphs">5-2018</text>
<line x1="514.46" y1="471.50" x2="514.46" y2="474.40" stroke="#6e6e6e" stroke-width="1"/>
<text x="0" y="0" transform="translate(518.96,480.30) rotate(-45)" font-size="6.6" font-weight="bold" text-anchor="end" fill="#2a2a2a" stroke="#2a2a2a" stroke-width="0.1" textLength="18.70" lengthAdjust="spacingAndGlyphs">9-2018</text>
<line x1="523.80" y1="471.50" x2="523.80" y2="474.40" stroke="#6e6e6e" stroke-width="1"/>
<text x="0" y="0" transform="translate(528.30,480.30) rotate(-45)" font-size="6.6" font-weight="bold" text-anchor="end" fill="#2a2a2a" stroke="#2a2a2a" stroke-width="0.1" textLength="22.30" lengthAdjust="spacingAndGlyphs">12-2018</text>
<line x1="533.14" y1="471.50" x2="533.14" y2="474.40" stroke="#6e6e6e" stroke-width="1"/>
<text x="0" y="0" transform="translate(537.64,480.30) rotate(-45)" font-size="6.6" font-weight="bold" text-anchor="end" fill="#2a2a2a" stroke="#2a2a2a" stroke-width="0.1" textLength="18.70" lengthAdjust="spacingAndGlyphs">3-2019</text>
<line x1="542.48" y1="471.50" x2="542.48" y2="474.40" stroke="#6e6e6e" stroke-width="1"/>
<text x="0" y="0" transform="translate(546.98,480.30) rotate(-45)" font-size="6.6" font-weight="bold" text-anchor="end" fill="#2a2a2a" stroke="#2a2a2a" stroke-width="0.1" textLength="18.70" lengthAdjust="spacingAndGlyphs">6-2019</text>
<line x1="551.82" y1="471.50" x2="551.82" y2="474.40" stroke="#6e6e6e" stroke-width="1"/>
<text x="0" y="0" transform="translate(556.32,480.30) rotate(-45)" font-size="6.6" font-weight="bold" text-anchor="end" fill="#2a2a2a" stroke="#2a2a2a" stroke-width="0.1" textLength="18.70" lengthAdjust="spacingAndGlyphs">8-2019</text>
<line x1="561.16" y1="471.50" x2="561.16" y2="474.40" stroke="#6e6e6e" stroke-width="1"/>
<text x="0" y="0" transform="translate(565.66,480.30) rotate(-45)" font-size="6.6" font-weight="bold" text-anchor="end" fill="#2a2a2a" stroke="#2a2a2a" stroke-width="0.1" textLength="22.30" lengthAdjust="spacingAndGlyphs">10-2019</text>
<line x1="570.50" y1="471.50" x2="570.50" y2="474.40" stroke="#6e6e6e" stroke-width="1"/>
<text x="0" y="0" transform="translate(575.00,480.30) rotate(-45)" font-size="6.6" font-weight="bold" text-anchor="end" fill="#2a2a2a" stroke="#2a2a2a" stroke-width="0.1" textLength="18.70" lengthAdjust="spacingAndGlyphs">2-2020</text>
<line x1="579.84" y1="471.50" x2="579.84" y2="474.40" stroke="#6e6e6e" stroke-width="1"/>
<text x="0" y="0" transform="translate(584.34,480.30) rotate(-45)" font-size="6.6" font-weight="bold" text-anchor="end" fill="#2a2a2a" stroke="#2a2a2a" stroke-width="0.1" textLength="18.70" lengthAdjust="spacingAndGlyphs">6-2020</text>
<line x1="589.18" y1="471.50" x2="589.18" y2="474.40" stroke="#6e6e6e" stroke-width="1"/>
<text x="0" y="0" transform="translate(593.68,480.30) rotate(-45)" font-size="6.6" font-weight="bold" text-anchor="end" fill="#2a2a2a" stroke="#2a2a2a" stroke-width="0.1" textLength="18.70" lengthAdjust="spacingAndGlyphs">9-2020</text>
<line x1="598.52" y1="471.50" x2="598.52" y2="474.40" stroke="#6e6e6e" stroke-width="1"/>
<text x="0" y="0" transform="translate(603.02,480.30) rotate(-45)" font-size="6.6" font-weight="bold" text-anchor="end" fill="#2a2a2a" stroke="#2a2a2a" stroke-width="0.1" textLength="18.70" lengthAdjust="spacingAndGlyphs">1-2021</text>
<line x1="607.86" y1="471.50" x2="607.86" y2="474.40" stroke="#6e6e6e" stroke-width="1"/>
<text x="0" y="0" transform="translate(612.36,480.30) rotate(-45)" font-size="6.6" font-weight="bold" text-anchor="end" fill="#2a2a2a" stroke="#2a2a2a" stroke-width="0.1" textLength="18.70" lengthAdjust="spacingAndGlyphs">3-2021</text>
<line x1="617.20" y1="471.50" x2="617.20" y2="474.40" stroke="#6e6e6e" stroke-width="1"/>
<text x="0" y="0" transform="translate(621.70,480.30) rotate(-45)" font-size="6.6" font-weight="bold" text-anchor="end" fill="#2a2a2a" stroke="#2a2a2a" stroke-width="0.1" textLength="18.70" lengthAdjust="spacingAndGlyphs">6-2021</text>
<line x1="626.54" y1="471.50" x2="626.54" y2="474.40" stroke="#6e6e6e" stroke-width="1"/>
<text x="0" y="0" transform="translate(631.04,480.30) rotate(-45)" font-size="6.6" font-weight="bold" text-anchor="end" fill="#2a2a2a" stroke="#2a2a2a" stroke-width="0.1" textLength="18.70" lengthAdjust="spacingAndGlyphs">8-2021</text>
<line x1="635.88" y1="471.50" x2="635.88" y2="474.40" stroke="#6e6e6e" stroke-width="1"/>
<text x="0" y="0" transform="translate(640.38,480.30) rotate(-45)" font-size="6.6" font-weight="bold" text-anchor="end" fill="#2a2a2a" stroke="#2a2a2a" stroke-width="0.1" textLength="22.30" lengthAdjust="spacingAndGlyphs">11-2021</text>
<line x1="645.22" y1="471.50" x2="645.22" y2="474.40" stroke="#6e6e6e" stroke-width="1"/>
<text x="0" y="0" transform="translate(649.72,480.30) rotate(-45)" font-size="6.6" font-weight="bold" text-anchor="end" fill="#2a2a2a" stroke="#2a2a2a" stroke-width="0.1" textLength="18.70" lengthAdjust="spacingAndGlyphs">1-2022</text>
<line x1="654.56" y1="471.50" x2="654.56" y2="474.40" stroke="#6e6e6e" stroke-width="1"/>
<text x="0" y="0" transform="translate(659.06,480.30) rotate(-45)" font-size="6.6" font-weight="bold" text-anchor="end" fill="#2a2a2a" stroke="#2a2a2a" stroke-width="0.1" textLength="18.70" lengthAdjust="spacingAndGlyphs">3-2022</text>
<text x="0" y="0" transform="translate(680.70,463.10) rotate(-90)" font-size="12.2" font-weight="bold" text-anchor="start" fill="#000" stroke="#000" stroke-width="0.22" textLength="46.50" lengthAdjust="spacingAndGlyphs">Medical</text>
<text x="0" y="0" transform="translate(680.70,413.30) rotate(-90)" font-size="12.2" font-weight="bold" text-anchor="start" fill="#000" stroke="#000" stroke-width="0.22" textLength="49.20" lengthAdjust="spacingAndGlyphs">Supplies</text>
<line x1="381.70" y1="612.90" x2="655.32" y2="612.90" stroke="#d6d6d6" stroke-width="1.5"/>
<line x1="381.70" y1="579.90" x2="381.70" y2="612.90" stroke="#5e5e5e" stroke-width="1"/>
<line x1="391.13" y1="564.40" x2="391.13" y2="612.90" stroke="#5e5e5e" stroke-width="1"/>
<line x1="400.57" y1="576.30" x2="400.57" y2="612.90" stroke="#5e5e5e" stroke-width="1"/>
<line x1="410.00" y1="569.80" x2="410.00" y2="612.90" stroke="#5e5e5e" stroke-width="1"/>
<line x1="419.44" y1="572.20" x2="419.44" y2="612.90" stroke="#5e5e5e" stroke-width="1"/>
<line x1="428.88" y1="562.30" x2="428.88" y2="612.90" stroke="#5e5e5e" stroke-width="1"/>
<line x1="438.31" y1="569.80" x2="438.31" y2="612.90" stroke="#5e5e5e" stroke-width="1"/>
<line x1="447.75" y1="570.00" x2="447.75" y2="612.90" stroke="#5e5e5e" stroke-width="1"/>
<line x1="457.18" y1="559.50" x2="457.18" y2="612.90" stroke="#5e5e5e" stroke-width="1"/>
<line x1="466.62" y1="574.70" x2="466.62" y2="612.90" stroke="#5e5e5e" stroke-width="1"/>
<line x1="476.05" y1="556.50" x2="476.05" y2="612.90" stroke="#5e5e5e" stroke-width="1"/>
<line x1="485.49" y1="542.10" x2="485.49" y2="612.90" stroke="#5e5e5e" stroke-width="1"/>
<line x1="494.92" y1="547.60" x2="494.92" y2="612.90" stroke="#5e5e5e" stroke-width="1"/>
<line x1="504.36" y1="562.70" x2="504.36" y2="612.90" stroke="#5e5e5e" stroke-width="1"/>
<line x1="513.79" y1="531.60" x2="513.79" y2="612.90" stroke="#5e5e5e" stroke-width="1"/>
<line x1="523.23" y1="562.10" x2="523.23" y2="612.90" stroke="#5e5e5e" stroke-width="1"/>
<line x1="532.66" y1="532.20" x2="532.66" y2="612.90" stroke="#5e5e5e" stroke-width="1"/>
<line x1="542.10" y1="510.00" x2="542.10" y2="612.90" stroke="#5e5e5e" stroke-width="1"/>
<line x1="551.53" y1="547.60" x2="551.53" y2="612.90" stroke="#5e5e5e" stroke-width="1"/>
<line x1="560.97" y1="535.80" x2="560.97" y2="612.90" stroke="#5e5e5e" stroke-width="1"/>
<line x1="570.40" y1="541.50" x2="570.40" y2="612.90" stroke="#5e5e5e" stroke-width="1"/>
<line x1="579.84" y1="550.80" x2="579.84" y2="612.90" stroke="#5e5e5e" stroke-width="1"/>
<line x1="589.27" y1="555.00" x2="589.27" y2="612.90" stroke="#5e5e5e" stroke-width="1"/>
<line x1="598.71" y1="531.80" x2="598.71" y2="612.90" stroke="#5e5e5e" stroke-width="1"/>
<line x1="608.14" y1="536.00" x2="608.14" y2="612.90" stroke="#5e5e5e" stroke-width="1"/>
<line x1="617.58" y1="558.30" x2="617.58" y2="612.90" stroke="#5e5e5e" stroke-width="1"/>
<line x1="627.01" y1="548.40" x2="627.01" y2="612.90" stroke="#5e5e5e" stroke-width="1"/>
<line x1="636.44" y1="553.20" x2="636.44" y2="612.90" stroke="#5e5e5e" stroke-width="1"/>
<line x1="645.88" y1="539.50" x2="645.88" y2="612.90" stroke="#5e5e5e" stroke-width="1"/>
<line x1="655.32" y1="556.30" x2="655.32" y2="612.90" stroke="#5e5e5e" stroke-width="1"/>
<circle cx="381.70" cy="579.90" r="2.60" fill="#59a8ec"/>
<circle cx="391.13" cy="564.40" r="2.60" fill="#59a8ec"/>
<circle cx="400.57" cy="576.30" r="2.60" fill="#59a8ec"/>
<circle cx="410.00" cy="569.80" r="2.60" fill="#59a8ec"/>
<circle cx="419.44" cy="572.20" r="2.60" fill="#59a8ec"/>
<circle cx="428.88" cy="562.30" r="2.60" fill="#59a8ec"/>
<circle cx="438.31" cy="569.80" r="2.60" fill="#59a8ec"/>
<circle cx="447.75" cy="570.00" r="2.60" fill="#59a8ec"/>
<circle cx="457.18" cy="559.50" r="2.60" fill="#59a8ec"/>
<circle cx="466.62" cy="574.70" r="2.60" fill="#59a8ec"/>
<circle cx="476.05" cy="556.50" r="2.60" fill="#8561cb"/>
<circle cx="485.49" cy="542.10" r="2.60" fill="#8561cb"/>
<circle cx="494.92" cy="547.60" r="2.60" fill="#8561cb"/>
<circle cx="504.36" cy="562.70" r="2.60" fill="#8561cb"/>
<circle cx="513.79" cy="531.60" r="2.60" fill="#8561cb"/>
<circle cx="523.23" cy="562.10" r="2.60" fill="#8561cb"/>
<circle cx="532.66" cy="532.20" r="2.60" fill="#8561cb"/>
<circle cx="542.10" cy="510.00" r="2.60" fill="#8561cb"/>
<circle cx="551.53" cy="547.60" r="2.60" fill="#8561cb"/>
<circle cx="560.97" cy="535.80" r="2.60" fill="#8561cb"/>
<circle cx="570.40" cy="541.50" r="2.60" fill="#3cb26f"/>
<circle cx="579.84" cy="550.80" r="2.60" fill="#3cb26f"/>
<circle cx="589.27" cy="555.00" r="2.60" fill="#3cb26f"/>
<circle cx="598.71" cy="531.80" r="2.60" fill="#3cb26f"/>
<circle cx="608.14" cy="536.00" r="2.60" fill="#3cb26f"/>
<circle cx="617.58" cy="558.30" r="2.60" fill="#3cb26f"/>
<circle cx="627.01" cy="548.40" r="2.60" fill="#3cb26f"/>
<circle cx="636.44" cy="553.20" r="2.60" fill="#3cb26f"/>
<circle cx="645.88" cy="539.50" r="2.60" fill="#3cb26f"/>
<circle cx="655.32" cy="556.30" r="2.60" fill="#3cb26f"/>
<rect x="368.20" y="504.60" width="300.70" height="113.50" fill="none" stroke="#6e6e6e" stroke-width="1"/>
<line x1="365.20" y1="612.90" x2="368.20" y2="612.90" stroke="#6e6e6e" stroke-width="1"/>
<text x="362.40" y="616.00" font-size="8.8" font-weight="bold" text-anchor="end" fill="#1a1a1a" stroke="#1a1a1a" stroke-width="0.22" textLength="4.80" lengthAdjust="spacingAndGlyphs">0</text>
<line x1="365.20" y1="570.84" x2="368.20" y2="570.84" stroke="#6e6e6e" stroke-width="1"/>
<text x="362.40" y="573.94" font-size="8.8" font-weight="bold" text-anchor="end" fill="#1a1a1a" stroke="#1a1a1a" stroke-width="0.22" textLength="4.80" lengthAdjust="spacingAndGlyphs">2</text>
<line x1="365.20" y1="528.78" x2="368.20" y2="528.78" stroke="#6e6e6e" stroke-width="1"/>
<text x="362.40" y="531.88" font-size="8.8" font-weight="bold" text-anchor="end" fill="#1a1a1a" stroke="#1a1a1a" stroke-width="0.22" textLength="4.80" lengthAdjust="spacingAndGlyphs">4</text>
<line x1="366.40" y1="591.87" x2="368.20" y2="591.87" stroke="#6e6e6e" stroke-width="0.8"/>
<line x1="366.40" y1="549.81" x2="368.20" y2="549.81" stroke="#6e6e6e" stroke-width="0.8"/>
<line x1="366.40" y1="507.75" x2="368.20" y2="507.75" stroke="#6e6e6e" stroke-width="0.8"/>
<line x1="381.70" y1="618.10" x2="381.70" y2="621.00" stroke="#6e6e6e" stroke-width="1"/>
<text x="0" y="0" transform="translate(386.20,626.90) rotate(-45)" font-size="6.6" font-weight="bold" text-anchor="end" fill="#2a2a2a" stroke="#2a2a2a" stroke-width="0.1" textLength="18.70" lengthAdjust="spacingAndGlyphs">6-2012</text>
<line x1="391.13" y1="618.10" x2="391.13" y2="621.00" stroke="#6e6e6e" stroke-width="1"/>
<text x="0" y="0" transform="translate(395.63,626.90) rotate(-45)" font-size="6.6" font-weight="bold" text-anchor="end" fill="#2a2a2a" stroke="#2a2a2a" stroke-width="0.1" textLength="22.30" lengthAdjust="spacingAndGlyphs">11-2012</text>
<line x1="400.57" y1="618.10" x2="400.57" y2="621.00" stroke="#6e6e6e" stroke-width="1"/>
<text x="0" y="0" transform="translate(405.07,626.90) rotate(-45)" font-size="6.6" font-weight="bold" text-anchor="end" fill="#2a2a2a" stroke="#2a2a2a" stroke-width="0.1" textLength="18.70" lengthAdjust="spacingAndGlyphs">8-2013</text>
<line x1="410.00" y1="618.10" x2="410.00" y2="621.00" stroke="#6e6e6e" stroke-width="1"/>
<text x="0" y="0" transform="translate(414.50,626.90) rotate(-45)" font-size="6.6" font-weight="bold" text-anchor="end" fill="#2a2a2a" stroke="#2a2a2a" stroke-width="0.1" textLength="18.70" lengthAdjust="spacingAndGlyphs">1-2014</text>
<line x1="419.44" y1="618.10" x2="419.44" y2="621.00" stroke="#6e6e6e" stroke-width="1"/>
<text x="0" y="0" transform="translate(423.94,626.90) rotate(-45)" font-size="6.6" font-weight="bold" text-anchor="end" fill="#2a2a2a" stroke="#2a2a2a" stroke-width="0.1" textLength="18.70" lengthAdjust="spacingAndGlyphs">5-2014</text>
<line x1="428.88" y1="618.10" x2="428.88" y2="621.00" stroke="#6e6e6e" stroke-width="1"/>
<text x="0" y="0" transform="translate(433.38,626.90) rotate(-45)" font-size="6.6" font-weight="bold" text-anchor="end" fill="#2a2a2a" stroke="#2a2a2a" stroke-width="0.1" textLength="22.30" lengthAdjust="spacingAndGlyphs">10-2014</text>
<line x1="438.31" y1="618.10" x2="438.31" y2="621.00" stroke="#6e6e6e" stroke-width="1"/>
<text x="0" y="0" transform="translate(442.81,626.90) rotate(-45)" font-size="6.6" font-weight="bold" text-anchor="end" fill="#2a2a2a" stroke="#2a2a2a" stroke-width="0.1" textLength="18.70" lengthAdjust="spacingAndGlyphs">3-2015</text>
<line x1="447.75" y1="618.10" x2="447.75" y2="621.00" stroke="#6e6e6e" stroke-width="1"/>
<text x="0" y="0" transform="translate(452.25,626.90) rotate(-45)" font-size="6.6" font-weight="bold" text-anchor="end" fill="#2a2a2a" stroke="#2a2a2a" stroke-width="0.1" textLength="18.70" lengthAdjust="spacingAndGlyphs">6-2015</text>
<line x1="457.18" y1="618.10" x2="457.18" y2="621.00" stroke="#6e6e6e" stroke-width="1"/>
<text x="0" y="0" transform="translate(461.68,626.90) rotate(-45)" font-size="6.6" font-weight="bold" text-anchor="end" fill="#2a2a2a" stroke="#2a2a2a" stroke-width="0.1" textLength="18.70" lengthAdjust="spacingAndGlyphs">8-2015</text>
<line x1="466.62" y1="618.10" x2="466.62" y2="621.00" stroke="#6e6e6e" stroke-width="1"/>
<text x="0" y="0" transform="translate(471.12,626.90) rotate(-45)" font-size="6.6" font-weight="bold" text-anchor="end" fill="#2a2a2a" stroke="#2a2a2a" stroke-width="0.1" textLength="22.30" lengthAdjust="spacingAndGlyphs">10-2015</text>
<line x1="476.05" y1="618.10" x2="476.05" y2="621.00" stroke="#6e6e6e" stroke-width="1"/>
<text x="0" y="0" transform="translate(480.55,626.90) rotate(-45)" font-size="6.6" font-weight="bold" text-anchor="end" fill="#2a2a2a" stroke="#2a2a2a" stroke-width="0.1" textLength="18.70" lengthAdjust="spacingAndGlyphs">9-2016</text>
<line x1="485.49" y1="618.10" x2="485.49" y2="621.00" stroke="#6e6e6e" stroke-width="1"/>
<text x="0" y="0" transform="translate(489.99,626.90) rotate(-45)" font-size="6.6" font-weight="bold" text-anchor="end" fill="#2a2a2a" stroke="#2a2a2a" stroke-width="0.1" textLength="18.70" lengthAdjust="spacingAndGlyphs">4-2017</text>
<line x1="494.92" y1="618.10" x2="494.92" y2="621.00" stroke="#6e6e6e" stroke-width="1"/>
<text x="0" y="0" transform="translate(499.42,626.90) rotate(-45)" font-size="6.6" font-weight="bold" text-anchor="end" fill="#2a2a2a" stroke="#2a2a2a" stroke-width="0.1" textLength="22.30" lengthAdjust="spacingAndGlyphs">10-2017</text>
<line x1="504.36" y1="618.10" x2="504.36" y2="621.00" stroke="#6e6e6e" stroke-width="1"/>
<text x="0" y="0" transform="translate(508.86,626.90) rotate(-45)" font-size="6.6" font-weight="bold" text-anchor="end" fill="#2a2a2a" stroke="#2a2a2a" stroke-width="0.1" textLength="18.70" lengthAdjust="spacingAndGlyphs">3-2018</text>
<line x1="513.79" y1="618.10" x2="513.79" y2="621.00" stroke="#6e6e6e" stroke-width="1"/>
<text x="0" y="0" transform="translate(518.29,626.90) rotate(-45)" font-size="6.6" font-weight="bold" text-anchor="end" fill="#2a2a2a" stroke="#2a2a2a" stroke-width="0.1" textLength="18.70" lengthAdjust="spacingAndGlyphs">7-2018</text>
<line x1="523.23" y1="618.10" x2="523.23" y2="621.00" stroke="#6e6e6e" stroke-width="1"/>
<text x="0" y="0" transform="translate(527.73,626.90) rotate(-45)" font-size="6.6" font-weight="bold" text-anchor="end" fill="#2a2a2a" stroke="#2a2a2a" stroke-width="0.1" textLength="22.30" lengthAdjust="spacingAndGlyphs">11-2018</text>
<line x1="532.66" y1="618.10" x2="532.66" y2="621.00" stroke="#6e6e6e" stroke-width="1"/>
<text x="0" y="0" transform="translate(537.16,626.90) rotate(-45)" font-size="6.6" font-weight="bold" text-anchor="end" fill="#2a2a2a" stroke="#2a2a2a" stroke-width="0.1" textLength="18.70" lengthAdjust="spacingAndGlyphs">4-2019</text>
<line x1="542.10" y1="618.10" x2="542.10" y2="621.00" stroke="#6e6e6e" stroke-width="1"/>
<text x="0" y="0" transform="translate(546.60,626.90) rotate(-45)" font-size="6.6" font-weight="bold" text-anchor="end" fill="#2a2a2a" stroke="#2a2a2a" stroke-width="0.1" textLength="18.70" lengthAdjust="spacingAndGlyphs">7-2019</text>
<line x1="551.53" y1="618.10" x2="551.53" y2="621.00" stroke="#6e6e6e" stroke-width="1"/>
<text x="0" y="0" transform="translate(556.03,626.90) rotate(-45)" font-size="6.6" font-weight="bold" text-anchor="end" fill="#2a2a2a" stroke="#2a2a2a" stroke-width="0.1" textLength="18.70" lengthAdjust="spacingAndGlyphs">8-2019</text>
<line x1="560.97" y1="618.10" x2="560.97" y2="621.00" stroke="#6e6e6e" stroke-width="1"/>
<text x="0" y="0" transform="translate(565.47,626.90) rotate(-45)" font-size="6.6" font-weight="bold" text-anchor="end" fill="#2a2a2a" stroke="#2a2a2a" stroke-width="0.1" textLength="22.30" lengthAdjust="spacingAndGlyphs">10-2019</text>
<line x1="570.40" y1="618.10" x2="570.40" y2="621.00" stroke="#6e6e6e" stroke-width="1"/>
<text x="0" y="0" transform="translate(574.90,626.90) rotate(-45)" font-size="6.6" font-weight="bold" text-anchor="end" fill="#2a2a2a" stroke="#2a2a2a" stroke-width="0.1" textLength="18.70" lengthAdjust="spacingAndGlyphs">1-2020</text>
<line x1="579.84" y1="618.10" x2="579.84" y2="621.00" stroke="#6e6e6e" stroke-width="1"/>
<text x="0" y="0" transform="translate(584.34,626.90) rotate(-45)" font-size="6.6" font-weight="bold" text-anchor="end" fill="#2a2a2a" stroke="#2a2a2a" stroke-width="0.1" textLength="18.70" lengthAdjust="spacingAndGlyphs">4-2020</text>
<line x1="589.27" y1="618.10" x2="589.27" y2="621.00" stroke="#6e6e6e" stroke-width="1"/>
<text x="0" y="0" transform="translate(593.77,626.90) rotate(-45)" font-size="6.6" font-weight="bold" text-anchor="end" fill="#2a2a2a" stroke="#2a2a2a" stroke-width="0.1" textLength="18.70" lengthAdjust="spacingAndGlyphs">7-2020</text>
<line x1="598.71" y1="618.10" x2="598.71" y2="621.00" stroke="#6e6e6e" stroke-width="1"/>
<text x="0" y="0" transform="translate(603.21,626.90) rotate(-45)" font-size="6.6" font-weight="bold" text-anchor="end" fill="#2a2a2a" stroke="#2a2a2a" stroke-width="0.1" textLength="22.30" lengthAdjust="spacingAndGlyphs">10-2020</text>
<line x1="608.14" y1="618.10" x2="608.14" y2="621.00" stroke="#6e6e6e" stroke-width="1"/>
<text x="0" y="0" transform="translate(612.64,626.90) rotate(-45)" font-size="6.6" font-weight="bold" text-anchor="end" fill="#2a2a2a" stroke="#2a2a2a" stroke-width="0.1" textLength="22.30" lengthAdjust="spacingAndGlyphs">12-2020</text>
<line x1="617.58" y1="618.10" x2="617.58" y2="621.00" stroke="#6e6e6e" stroke-width="1"/>
<text x="0" y="0" transform="translate(622.08,626.90) rotate(-45)" font-size="6.6" font-weight="bold" text-anchor="end" fill="#2a2a2a" stroke="#2a2a2a" stroke-width="0.1" textLength="18.70" lengthAdjust="spacingAndGlyphs">4-2021</text>
<line x1="627.01" y1="618.10" x2="627.01" y2="621.00" stroke="#6e6e6e" stroke-width="1"/>
<text x="0" y="0" transform="translate(631.51,626.90) rotate(-45)" font-size="6.6" font-weight="bold" text-anchor="end" fill="#2a2a2a" stroke="#2a2a2a" stroke-width="0.1" textLength="18.70" lengthAdjust="spacingAndGlyphs">6-2021</text>
<line x1="636.44" y1="618.10" x2="636.44" y2="621.00" stroke="#6e6e6e" stroke-width="1"/>
<text x="0" y="0" transform="translate(640.94,626.90) rotate(-45)" font-size="6.6" font-weight="bold" text-anchor="end" fill="#2a2a2a" stroke="#2a2a2a" stroke-width="0.1" textLength="18.70" lengthAdjust="spacingAndGlyphs">9-2021</text>
<line x1="645.88" y1="618.10" x2="645.88" y2="621.00" stroke="#6e6e6e" stroke-width="1"/>
<text x="0" y="0" transform="translate(650.38,626.90) rotate(-45)" font-size="6.6" font-weight="bold" text-anchor="end" fill="#2a2a2a" stroke="#2a2a2a" stroke-width="0.1" textLength="22.30" lengthAdjust="spacingAndGlyphs">12-2021</text>
<line x1="655.32" y1="618.10" x2="655.32" y2="621.00" stroke="#6e6e6e" stroke-width="1"/>
<text x="0" y="0" transform="translate(659.82,626.90) rotate(-45)" font-size="6.6" font-weight="bold" text-anchor="end" fill="#2a2a2a" stroke="#2a2a2a" stroke-width="0.1" textLength="18.70" lengthAdjust="spacingAndGlyphs">3-2022</text>
<text x="0" y="0" transform="translate(681.40,609.90) rotate(-90)" font-size="12.2" font-weight="bold" text-anchor="start" fill="#000" stroke="#000" stroke-width="0.22" textLength="35.50" lengthAdjust="spacingAndGlyphs">Heavy</text>
<text x="0" y="0" transform="translate(681.40,571.40) rotate(-90)" font-size="12.2" font-weight="bold" text-anchor="start" fill="#000" stroke="#000" stroke-width="0.22" textLength="63.10" lengthAdjust="spacingAndGlyphs">Machinery</text>
<text x="539.40" y="656.30" font-size="13.5" font-weight="bold" text-anchor="middle" fill="#000" stroke="#000" stroke-width="0.3" textLength="31.60" lengthAdjust="spacingAndGlyphs">Time</text>
<text x="0" y="0" transform="translate(349.50,591.60) rotate(-90)" font-size="14" font-weight="bold" text-anchor="start" fill="#000" stroke="#000" stroke-width="0.3" textLength="53.60" lengthAdjust="spacingAndGlyphs">Average</text>
<text x="0" y="0" transform="translate(349.50,534.20) rotate(-90)" font-size="14" font-weight="bold" text-anchor="start" fill="#000" stroke="#000" stroke-width="0.3" textLength="14.30" lengthAdjust="spacingAndGlyphs">N.</text>
<text x="0" y="0" transform="translate(349.50,515.90) rotate(-90)" font-size="14" font-weight="bold" text-anchor="start" fill="#000" stroke="#000" stroke-width="0.3" textLength="43.30" lengthAdjust="spacingAndGlyphs">Bidder</text>
<text x="0" y="0" transform="translate(349.50,468.70) rotate(-90)" font-size="14" font-weight="bold" text-anchor="start" fill="#000" stroke="#000" stroke-width="0.3" textLength="21.40" lengthAdjust="spacingAndGlyphs">per</text>
<text x="0" y="0" transform="translate(349.50,443.50) rotate(-90)" font-size="14" font-weight="bold" text-anchor="start" fill="#000" stroke="#000" stroke-width="0.3" textLength="46.10" lengthAdjust="spacingAndGlyphs">Tender</text>
</svg>
</body>
</html>
